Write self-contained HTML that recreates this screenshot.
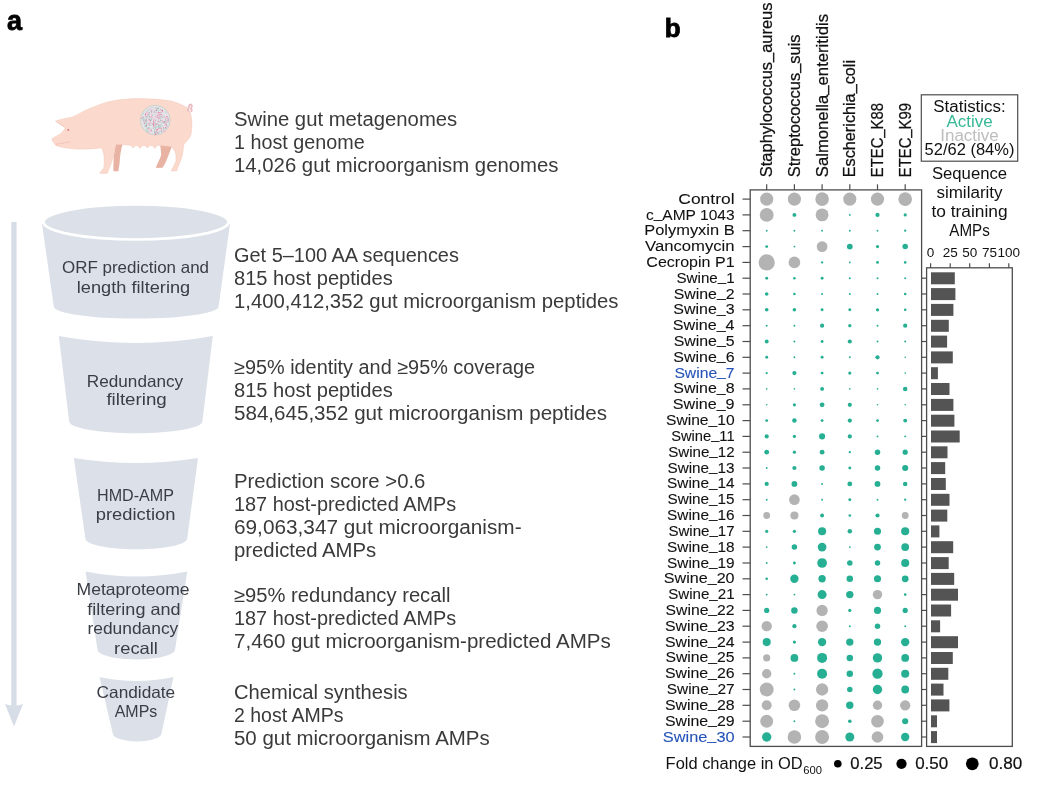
<!DOCTYPE html>
<html><head><meta charset="utf-8"><title>Figure</title>
<style>html,body{margin:0;padding:0;background:#fff}svg{display:block;will-change:transform}</style></head>
<body><svg width="1040" height="785" viewBox="0 0 1040 785">
<rect width="1040" height="785" fill="#ffffff"/>
<text x="6.9" y="29.9" style="font-family:'Liberation Sans',Arial,sans-serif;font-weight:bold;font-size:27px" fill="#000" stroke="#000" stroke-width="0.8">a</text>
<text x="664.8" y="37" style="font-family:'Liberation Sans',Arial,sans-serif;font-weight:bold;font-size:26px" fill="#000" stroke="#000" stroke-width="0.8">b</text>
<text x="234.0" y="126.3" textLength="223.2" lengthAdjust="spacingAndGlyphs" style="font-family:'Liberation Sans',Arial,sans-serif;font-size:19.5px" fill="#3a3a3a">Swine gut metagenomes</text>
<text x="234.0" y="149.3" textLength="130.7" lengthAdjust="spacingAndGlyphs" style="font-family:'Liberation Sans',Arial,sans-serif;font-size:19.5px" fill="#3a3a3a">1 host genome</text>
<text x="234.0" y="172.3" textLength="324.5" lengthAdjust="spacingAndGlyphs" style="font-family:'Liberation Sans',Arial,sans-serif;font-size:19.5px" fill="#3a3a3a">14,026 gut microorganism genomes</text>
<text x="234.0" y="262.4" textLength="224.9" lengthAdjust="spacingAndGlyphs" style="font-family:'Liberation Sans',Arial,sans-serif;font-size:19.5px" fill="#3a3a3a">Get 5–100 AA sequences</text>
<text x="234.0" y="285.4" textLength="158.7" lengthAdjust="spacingAndGlyphs" style="font-family:'Liberation Sans',Arial,sans-serif;font-size:19.5px" fill="#3a3a3a">815 host peptides</text>
<text x="234.0" y="308.4" textLength="384.5" lengthAdjust="spacingAndGlyphs" style="font-family:'Liberation Sans',Arial,sans-serif;font-size:19.5px" fill="#3a3a3a">1,400,412,352 gut microorganism peptides</text>
<text x="234.0" y="374.2" textLength="301.0" lengthAdjust="spacingAndGlyphs" style="font-family:'Liberation Sans',Arial,sans-serif;font-size:19.5px" fill="#3a3a3a">≥95% identity and ≥95% coverage</text>
<text x="234.0" y="397.2" textLength="158.7" lengthAdjust="spacingAndGlyphs" style="font-family:'Liberation Sans',Arial,sans-serif;font-size:19.5px" fill="#3a3a3a">815 host peptides</text>
<text x="234.0" y="420.2" textLength="373.0" lengthAdjust="spacingAndGlyphs" style="font-family:'Liberation Sans',Arial,sans-serif;font-size:19.5px" fill="#3a3a3a">584,645,352 gut microorganism peptides</text>
<text x="234.0" y="488.1" textLength="191.4" lengthAdjust="spacingAndGlyphs" style="font-family:'Liberation Sans',Arial,sans-serif;font-size:19.5px" fill="#3a3a3a">Prediction score &gt;0.6</text>
<text x="234.0" y="511.1" textLength="222.2" lengthAdjust="spacingAndGlyphs" style="font-family:'Liberation Sans',Arial,sans-serif;font-size:19.5px" fill="#3a3a3a">187 host-predicted AMPs</text>
<text x="234.0" y="534.1" textLength="287.6" lengthAdjust="spacingAndGlyphs" style="font-family:'Liberation Sans',Arial,sans-serif;font-size:19.5px" fill="#3a3a3a">69,063,347 gut microorganism-</text>
<text x="234.0" y="557.1" textLength="142.2" lengthAdjust="spacingAndGlyphs" style="font-family:'Liberation Sans',Arial,sans-serif;font-size:19.5px" fill="#3a3a3a">predicted AMPs</text>
<text x="234.0" y="602.0" textLength="216.4" lengthAdjust="spacingAndGlyphs" style="font-family:'Liberation Sans',Arial,sans-serif;font-size:19.5px" fill="#3a3a3a">≥95% redundancy recall</text>
<text x="234.0" y="625.0" textLength="222.2" lengthAdjust="spacingAndGlyphs" style="font-family:'Liberation Sans',Arial,sans-serif;font-size:19.5px" fill="#3a3a3a">187 host-predicted AMPs</text>
<text x="234.0" y="648.0" textLength="376.8" lengthAdjust="spacingAndGlyphs" style="font-family:'Liberation Sans',Arial,sans-serif;font-size:19.5px" fill="#3a3a3a">7,460 gut microorganism-predicted AMPs</text>
<text x="234.0" y="698.5" textLength="173.7" lengthAdjust="spacingAndGlyphs" style="font-family:'Liberation Sans',Arial,sans-serif;font-size:19.5px" fill="#3a3a3a">Chemical synthesis</text>
<text x="234.0" y="721.5" textLength="109.5" lengthAdjust="spacingAndGlyphs" style="font-family:'Liberation Sans',Arial,sans-serif;font-size:19.5px" fill="#3a3a3a">2 host AMPs</text>
<text x="234.0" y="744.5" textLength="255.7" lengthAdjust="spacingAndGlyphs" style="font-family:'Liberation Sans',Arial,sans-serif;font-size:19.5px" fill="#3a3a3a">50 gut microorganism AMPs</text>
<rect x="11.3" y="222" width="5.3" height="484" fill="#d7dde6"/>
<path d="M5,704 Q14,707 23,704 L14,726.5 Z" fill="#d7dde6"/>
<path d="M42,224 L230,224 L218.6,306.5 C218.6,313.2 181.7,318.6 136.2,318.6 C90.7,318.6 53.8,313.2 53.8,306.5 Z" fill="#dce0e9"/>
<ellipse cx="136" cy="222" rx="92.5" ry="17.5" fill="#dce0e9" stroke="#ffffff" stroke-width="2.6"/>
<path d="M58.8,336 Q135.8,350 212.8,336 L202.4,421.5 C202.4,428.0 172.6,433.2 135.8,433.2 C99.0,433.2 69.2,428.0 69.2,421.5 Z" fill="#dce0e9"/>
<path d="M73.8,458 Q135.9,468 198,458 L187.2,538.5 C187.2,544.5 164.4,549.3 136.3,549.3 C108.2,549.3 85.4,544.5 85.4,538.5 Z" fill="#dce0e9"/>
<path d="M85.5,571.5 Q136.4,581.5 187.3,571.5 L175,649.5 C175,655.0 157.6,659.4 136.2,659.4 C114.9,659.4 97.5,655.0 97.5,649.5 Z" fill="#dce0e9"/>
<path d="M99.5,677 Q136.5,685 173.5,677 L161.5,733.5 C161.5,737.9 150.6,741.4 137.2,741.4 C123.7,741.4 112.8,737.9 112.8,733.5 Z" fill="#dce0e9"/>
<text x="135.5" y="273.4" text-anchor="middle" textLength="147.0" lengthAdjust="spacingAndGlyphs" style="font-family:'Liberation Sans',Arial,sans-serif;font-size:16.5px" fill="#3a3d44">ORF prediction and</text>
<text x="133.5" y="292.7" text-anchor="middle" textLength="113.4" lengthAdjust="spacingAndGlyphs" style="font-family:'Liberation Sans',Arial,sans-serif;font-size:16.5px" fill="#3a3d44">length filtering</text>
<text x="135.0" y="386.5" text-anchor="middle" textLength="96.3" lengthAdjust="spacingAndGlyphs" style="font-family:'Liberation Sans',Arial,sans-serif;font-size:16.5px" fill="#3a3d44">Redundancy</text>
<text x="136.6" y="405.4" text-anchor="middle" textLength="60.4" lengthAdjust="spacingAndGlyphs" style="font-family:'Liberation Sans',Arial,sans-serif;font-size:16.5px" fill="#3a3d44">filtering</text>
<text x="135.5" y="501.0" text-anchor="middle" textLength="77" lengthAdjust="spacingAndGlyphs" style="font-family:'Liberation Sans',Arial,sans-serif;font-size:16.5px" fill="#3a3d44">HMD-AMP</text>
<text x="135.6" y="519.7" text-anchor="middle" textLength="79.6" lengthAdjust="spacingAndGlyphs" style="font-family:'Liberation Sans',Arial,sans-serif;font-size:16.5px" fill="#3a3d44">prediction</text>
<text x="133.1" y="595.0" text-anchor="middle" textLength="113.0" lengthAdjust="spacingAndGlyphs" style="font-family:'Liberation Sans',Arial,sans-serif;font-size:16.5px" fill="#3a3d44">Metaproteome</text>
<text x="133.9" y="614.6" text-anchor="middle" textLength="93.2" lengthAdjust="spacingAndGlyphs" style="font-family:'Liberation Sans',Arial,sans-serif;font-size:16.5px" fill="#3a3d44">filtering and</text>
<text x="132.9" y="634.3" text-anchor="middle" textLength="90.8" lengthAdjust="spacingAndGlyphs" style="font-family:'Liberation Sans',Arial,sans-serif;font-size:16.5px" fill="#3a3d44">redundancy</text>
<text x="136" y="654.0" text-anchor="middle" textLength="43.9" lengthAdjust="spacingAndGlyphs" style="font-family:'Liberation Sans',Arial,sans-serif;font-size:16.5px" fill="#3a3d44">recall</text>
<text x="135.9" y="697.5" text-anchor="middle" textLength="78.6" lengthAdjust="spacingAndGlyphs" style="font-family:'Liberation Sans',Arial,sans-serif;font-size:16.5px" fill="#3a3d44">Candidate</text>
<text x="136.0" y="716.7" text-anchor="middle" textLength="42.6" lengthAdjust="spacingAndGlyphs" style="font-family:'Liberation Sans',Arial,sans-serif;font-size:16.5px" fill="#3a3d44">AMPs</text>
<path d="M116,144.3 L122.6,144.3 C121.8,147 121,150 120.6,152.9 C120.1,156 119.8,159.5 119.6,163 C119.3,165.5 118.9,167.5 118.5,169.7 L118.6,171.2 L113.4,171.3 C113.3,167 113.5,160 113.9,155.4 C114.5,151 115.3,147.5 116,144.3 Z" fill="#e8b3a2"/>
<path d="M160.2,145 L171.9,146.5 C170.5,150 169.5,153 168.4,155.4 C167.3,158.5 166.2,161 165.3,163 C164.3,165 163.3,166.7 162.4,167.8 L156.1,168 C156.2,167 156.4,166.3 156.6,165.6 C158,162 160,158.5 161,155.4 C161.2,152 160.6,148.5 160.2,145 Z" fill="#e8b3a2"/>
<path d="M55.3,121 C60,119.5 66,118 72,117.2 C76,115.5 78,114 80.7,112.9 C85,110.5 89,108.5 93.7,106.9 C100,104.5 105,102.5 110,101.5 C115,100.3 120,99.6 125,99.3 C130,98.9 134,98.6 137.9,98.6 C148,98.6 158,99.5 166.6,100.3 C172,101 176,102.5 179.2,103.8 C182.5,105 185,106.3 187.3,107.8 C189.5,110 190.5,112.5 190.9,115.2 C191.6,118 192,121 191.9,124.4 C191.8,128 191.5,132 190.8,135 C190,137.5 188.5,139.5 186.7,141.1 C185,143 184,144 183.7,145.2 C183.2,148 183,151 182.7,153.4 C182.2,156 181.5,158.5 180.6,160.5 C179.5,163.5 178.2,166.5 177.2,168.7 L177,170.8 L171.3,171 C172.2,168.8 173.2,167 174,165.6 C175,163.5 175.8,162 176,160.5 C176.2,157.5 176,155 175.5,152.9 C174.9,151 174.2,150 173.5,149.5 C172.8,148.5 172.3,147.5 171.9,146.5 L157,145.3 L154.8,148.4 L152.4,145.4 L149.8,145.4 L147.4,147.9 L145,145.4 L142.4,145.4 L139.9,148.4 L137.4,145.5 L135.4,145.5 L133.2,147.9 L131,145.3 L122,144.6 C118,144.4 116.5,144.3 115.5,144.3 C115,147.5 114.5,151 113.9,154.4 C113.5,156.5 113,158 112.4,159.5 C111.8,161.5 111,163.8 110.4,165.6 C109.6,168 108.6,170 107.8,171.7 L107.3,173.3 L100.2,173.4 C100.1,172.6 100.1,172.1 100.3,171.7 C101.5,170.5 103,169.5 103.7,168.2 C104.1,166.5 104.3,164.5 104.2,162.6 C104.2,160 104.2,157.5 104,155.4 C103.6,153.2 103,151 102.2,149.3 C101.7,148.4 101.2,148 100.5,147.9 C96,148.5 90,149 82.9,149.1 C77,149.2 71,148.7 66.6,148 C62,147.3 59,146.7 57,145.9 C55.5,145.2 54.8,144.5 54.7,143.7 C53.6,142.5 52.6,141.2 52.2,140.2 C51.9,139.3 52.1,138.7 52.6,138.3 C55,136.8 58,135.5 60.2,134 C62.5,132 64.5,129.5 65.6,127.5 C62,125.5 58,123 55.3,121 Z" fill="#fbd9cc" stroke="#f1c7b8" stroke-width="0.5"/>
<path d="M188.2,110.5 C188.4,108.5 188.6,106.5 189.4,105.2 C190.2,104.2 191.2,104.3 191.7,105.4 C192.2,106.6 191.6,107.8 190.9,108.4 C191.8,109.2 192,110.3 191.4,111.2" fill="none" stroke="#ebbcc3" stroke-width="1.9" stroke-linecap="round" stroke-linejoin="round"/>
<path d="M57,121.8 C60,124 63,126 65.6,127.7" fill="none" stroke="#efc2b3" stroke-width="0.7"/>
<circle cx="68.3" cy="129.9" r="0.95" fill="#d9707a"/>
<path d="M55.8,144.3 C61,143.6 66,142.6 70,141.6" fill="none" stroke="#ecbcad" stroke-width="0.7"/>
<circle cx="155.3" cy="120.2" r="14.9" fill="#e4e4e8" stroke="#c9cfc9" stroke-width="0.9"/>
<rect x="146.8" y="116.8" width="1.6" height="0.9" fill="#cde9e0" transform="rotate(150 146.8 116.8)"/>
<rect x="157.3" y="114.6" width="1.6" height="1.1" fill="#e8a0b8" transform="rotate(47 157.3 114.6)"/>
<rect x="153.9" y="124.1" width="0.9" height="1.1" fill="#f0a6c2" transform="rotate(152 153.9 124.1)"/>
<rect x="168.4" y="117.2" width="1.1" height="1.1" fill="#f0a6c2" transform="rotate(135 168.4 117.2)"/>
<rect x="158.6" y="121.0" width="1.1" height="1.1" fill="#f0a6c2" transform="rotate(118 158.6 121.0)"/>
<rect x="148.8" y="116.0" width="1.1" height="1.1" fill="#9ad6c5" transform="rotate(163 148.8 116.0)"/>
<rect x="162.7" y="120.4" width="0.9" height="0.9" fill="#a8a8ae" transform="rotate(104 162.7 120.4)"/>
<rect x="168.9" y="119.8" width="0.9" height="1.1" fill="#a8a8ae" transform="rotate(80 168.9 119.8)"/>
<rect x="143.5" y="119.2" width="0.9" height="0.7" fill="#e8a0b8" transform="rotate(27 143.5 119.2)"/>
<rect x="160.2" y="113.1" width="1.6" height="0.7" fill="#f0a6c2" transform="rotate(175 160.2 113.1)"/>
<rect x="155.4" y="120.5" width="0.9" height="0.9" fill="#f4c0d4" transform="rotate(101 155.4 120.5)"/>
<rect x="147.2" y="116.6" width="1.1" height="1.1" fill="#a8a8ae" transform="rotate(86 147.2 116.6)"/>
<rect x="153.3" y="123.7" width="1.6" height="0.7" fill="#a9dccd" transform="rotate(63 153.3 123.7)"/>
<rect x="166.7" y="121.0" width="1.6" height="0.9" fill="#a9dccd" transform="rotate(174 166.7 121.0)"/>
<rect x="145.7" y="123.5" width="1.1" height="1.1" fill="#a9dccd" transform="rotate(107 145.7 123.5)"/>
<rect x="163.4" y="127.5" width="1.6" height="0.7" fill="#f0a6c2" transform="rotate(69 163.4 127.5)"/>
<rect x="167.8" y="118.2" width="1.3" height="0.7" fill="#9ad6c5" transform="rotate(47 167.8 118.2)"/>
<rect x="160.5" y="113.4" width="0.9" height="0.7" fill="#a9dccd" transform="rotate(54 160.5 113.4)"/>
<rect x="164.3" y="120.7" width="1.3" height="0.9" fill="#f4c0d4" transform="rotate(18 164.3 120.7)"/>
<rect x="156.3" y="123.8" width="1.1" height="0.7" fill="#e8a0b8" transform="rotate(94 156.3 123.8)"/>
<rect x="147.4" y="122.6" width="1.6" height="1.1" fill="#a9dccd" transform="rotate(98 147.4 122.6)"/>
<rect x="158.6" y="125.0" width="1.1" height="1.1" fill="#9ad6c5" transform="rotate(48 158.6 125.0)"/>
<rect x="151.6" y="116.3" width="1.1" height="1.1" fill="#f4c0d4" transform="rotate(123 151.6 116.3)"/>
<rect x="146.0" y="125.2" width="0.9" height="0.7" fill="#f0a6c2" transform="rotate(131 146.0 125.2)"/>
<rect x="156.3" y="133.5" width="1.6" height="0.9" fill="#f4c0d4" transform="rotate(152 156.3 133.5)"/>
<rect x="145.8" y="119.0" width="0.9" height="0.7" fill="#9ad6c5" transform="rotate(122 145.8 119.0)"/>
<rect x="161.4" y="112.1" width="0.9" height="0.9" fill="#9ad6c5" transform="rotate(52 161.4 112.1)"/>
<rect x="166.0" y="125.2" width="1.6" height="0.9" fill="#9ad6c5" transform="rotate(15 166.0 125.2)"/>
<rect x="154.7" y="123.1" width="1.1" height="0.7" fill="#c4c4cc" transform="rotate(35 154.7 123.1)"/>
<rect x="168.0" y="118.6" width="1.1" height="1.1" fill="#f0a6c2" transform="rotate(4 168.0 118.6)"/>
<rect x="149.4" y="127.5" width="1.3" height="0.7" fill="#f0a6c2" transform="rotate(153 149.4 127.5)"/>
<rect x="144.5" y="121.4" width="1.3" height="0.9" fill="#a9dccd" transform="rotate(18 144.5 121.4)"/>
<rect x="151.7" y="119.1" width="0.9" height="1.1" fill="#a9dccd" transform="rotate(87 151.7 119.1)"/>
<rect x="152.1" y="112.8" width="0.9" height="0.9" fill="#f0a6c2" transform="rotate(127 152.1 112.8)"/>
<rect x="148.0" y="112.9" width="1.6" height="0.9" fill="#e8a0b8" transform="rotate(3 148.0 112.9)"/>
<rect x="164.6" y="125.3" width="0.9" height="0.9" fill="#f4c0d4" transform="rotate(84 164.6 125.3)"/>
<rect x="154.5" y="111.8" width="1.6" height="0.9" fill="#f6d2e0" transform="rotate(138 154.5 111.8)"/>
<rect x="155.3" y="116.3" width="0.9" height="0.9" fill="#e8a0b8" transform="rotate(22 155.3 116.3)"/>
<rect x="156.5" y="129.6" width="0.9" height="0.9" fill="#e8a0b8" transform="rotate(168 156.5 129.6)"/>
<rect x="154.8" y="133.2" width="0.9" height="0.9" fill="#a8a8ae" transform="rotate(36 154.8 133.2)"/>
<rect x="158.6" y="130.9" width="1.1" height="0.9" fill="#f6d2e0" transform="rotate(127 158.6 130.9)"/>
<rect x="149.3" y="131.6" width="1.3" height="0.7" fill="#f4c0d4" transform="rotate(51 149.3 131.6)"/>
<rect x="145.8" y="128.7" width="1.3" height="0.7" fill="#a9dccd" transform="rotate(34 145.8 128.7)"/>
<rect x="160.3" y="112.0" width="0.9" height="1.1" fill="#e46e98" transform="rotate(70 160.3 112.0)"/>
<rect x="164.7" y="128.2" width="1.6" height="0.9" fill="#9ad6c5" transform="rotate(105 164.7 128.2)"/>
<rect x="147.0" y="119.1" width="1.3" height="1.1" fill="#e8a0b8" transform="rotate(115 147.0 119.1)"/>
<rect x="159.0" y="113.4" width="1.3" height="1.1" fill="#f0a6c2" transform="rotate(173 159.0 113.4)"/>
<rect x="145.0" y="115.3" width="1.3" height="1.1" fill="#e8a0b8" transform="rotate(4 145.0 115.3)"/>
<rect x="146.3" y="126.3" width="1.1" height="0.7" fill="#a8a8ae" transform="rotate(60 146.3 126.3)"/>
<rect x="158.8" y="108.7" width="0.9" height="0.9" fill="#e46e98" transform="rotate(161 158.8 108.7)"/>
<rect x="149.0" y="112.5" width="1.3" height="0.7" fill="#9ad6c5" transform="rotate(51 149.0 112.5)"/>
<rect x="154.8" y="132.5" width="0.9" height="0.9" fill="#cde9e0" transform="rotate(9 154.8 132.5)"/>
<rect x="154.5" y="125.9" width="1.3" height="1.1" fill="#cde9e0" transform="rotate(128 154.5 125.9)"/>
<rect x="155.7" y="109.5" width="1.6" height="1.1" fill="#9ad6c5" transform="rotate(22 155.7 109.5)"/>
<rect x="162.1" y="114.8" width="1.6" height="0.7" fill="#f6d2e0" transform="rotate(116 162.1 114.8)"/>
<rect x="159.9" y="116.3" width="0.9" height="0.9" fill="#cde9e0" transform="rotate(145 159.9 116.3)"/>
<rect x="144.3" y="120.0" width="1.3" height="0.9" fill="#c4c4cc" transform="rotate(166 144.3 120.0)"/>
<rect x="166.3" y="128.1" width="0.9" height="0.7" fill="#9ad6c5" transform="rotate(99 166.3 128.1)"/>
<rect x="168.6" y="118.3" width="1.3" height="0.9" fill="#f0a6c2" transform="rotate(89 168.6 118.3)"/>
<rect x="164.7" y="122.4" width="1.3" height="1.1" fill="#f4c0d4" transform="rotate(70 164.7 122.4)"/>
<rect x="164.6" y="121.9" width="0.9" height="0.9" fill="#f0a6c2" transform="rotate(44 164.6 121.9)"/>
<rect x="151.4" y="111.0" width="1.1" height="0.9" fill="#a9dccd" transform="rotate(132 151.4 111.0)"/>
<rect x="142.5" y="118.7" width="1.6" height="0.9" fill="#e8a0b8" transform="rotate(176 142.5 118.7)"/>
<rect x="156.0" y="124.1" width="1.3" height="1.1" fill="#cde9e0" transform="rotate(163 156.0 124.1)"/>
<rect x="149.8" y="119.7" width="1.3" height="0.9" fill="#f4c0d4" transform="rotate(156 149.8 119.7)"/>
<rect x="159.0" y="115.2" width="1.3" height="1.1" fill="#f6d2e0" transform="rotate(51 159.0 115.2)"/>
<rect x="161.9" y="125.9" width="0.9" height="1.1" fill="#f4c0d4" transform="rotate(7 161.9 125.9)"/>
<rect x="164.9" y="122.9" width="1.6" height="1.1" fill="#e8a0b8" transform="rotate(31 164.9 122.9)"/>
<rect x="151.8" y="111.3" width="0.9" height="1.1" fill="#f6d2e0" transform="rotate(105 151.8 111.3)"/>
<rect x="159.4" y="107.8" width="1.6" height="0.9" fill="#9ad6c5" transform="rotate(121 159.4 107.8)"/>
<rect x="150.2" y="128.3" width="1.6" height="1.1" fill="#c4c4cc" transform="rotate(27 150.2 128.3)"/>
<rect x="150.9" y="116.2" width="1.3" height="0.7" fill="#f0a6c2" transform="rotate(9 150.9 116.2)"/>
<rect x="156.2" y="126.1" width="1.3" height="0.9" fill="#c4c4cc" transform="rotate(62 156.2 126.1)"/>
<rect x="163.8" y="126.8" width="0.9" height="1.1" fill="#e8a0b8" transform="rotate(64 163.8 126.8)"/>
<rect x="151.8" y="109.2" width="1.6" height="0.7" fill="#f4c0d4" transform="rotate(162 151.8 109.2)"/>
<rect x="146.7" y="118.6" width="1.1" height="1.1" fill="#9ad6c5" transform="rotate(161 146.7 118.6)"/>
<rect x="157.3" y="129.9" width="1.1" height="1.1" fill="#e8a0b8" transform="rotate(150 157.3 129.9)"/>
<rect x="156.7" y="132.7" width="1.3" height="0.7" fill="#c4c4cc" transform="rotate(154 156.7 132.7)"/>
<rect x="162.1" y="116.6" width="1.1" height="0.7" fill="#e46e98" transform="rotate(34 162.1 116.6)"/>
<rect x="163.9" y="129.7" width="0.9" height="0.9" fill="#f4c0d4" transform="rotate(24 163.9 129.7)"/>
<rect x="163.7" y="117.0" width="1.1" height="0.7" fill="#f4c0d4" transform="rotate(160 163.7 117.0)"/>
<rect x="166.5" y="121.5" width="1.1" height="1.1" fill="#c4c4cc" transform="rotate(92 166.5 121.5)"/>
<rect x="150.7" y="120.0" width="1.3" height="1.1" fill="#9ad6c5" transform="rotate(18 150.7 120.0)"/>
<rect x="164.6" y="121.6" width="1.6" height="0.7" fill="#9ad6c5" transform="rotate(47 164.6 121.6)"/>
<rect x="157.5" y="124.3" width="1.1" height="0.9" fill="#e46e98" transform="rotate(148 157.5 124.3)"/>
<rect x="158.5" y="119.2" width="1.6" height="0.7" fill="#e46e98" transform="rotate(83 158.5 119.2)"/>
<rect x="147.7" y="124.0" width="1.3" height="0.9" fill="#9ad6c5" transform="rotate(153 147.7 124.0)"/>
<rect x="149.8" y="114.0" width="0.9" height="0.7" fill="#a9dccd" transform="rotate(104 149.8 114.0)"/>
<rect x="154.7" y="111.1" width="1.6" height="0.7" fill="#e8a0b8" transform="rotate(42 154.7 111.1)"/>
<rect x="156.4" y="116.2" width="1.3" height="0.7" fill="#f4c0d4" transform="rotate(145 156.4 116.2)"/>
<rect x="144.8" y="119.9" width="1.3" height="0.9" fill="#a8a8ae" transform="rotate(29 144.8 119.9)"/>
<rect x="157.4" y="108.6" width="1.6" height="0.7" fill="#c4c4cc" transform="rotate(137 157.4 108.6)"/>
<rect x="156.5" y="108.9" width="1.1" height="0.9" fill="#9ad6c5" transform="rotate(47 156.5 108.9)"/>
<rect x="153.3" y="123.2" width="1.6" height="0.7" fill="#f0a6c2" transform="rotate(91 153.3 123.2)"/>
<rect x="166.4" y="112.4" width="0.9" height="0.7" fill="#a8a8ae" transform="rotate(170 166.4 112.4)"/>
<rect x="156.9" y="127.5" width="1.6" height="1.1" fill="#a9dccd" transform="rotate(136 156.9 127.5)"/>
<rect x="151.5" y="119.9" width="1.6" height="1.1" fill="#9ad6c5" transform="rotate(179 151.5 119.9)"/>
<rect x="151.6" y="123.1" width="0.9" height="0.7" fill="#e8a0b8" transform="rotate(27 151.6 123.1)"/>
<rect x="154.8" y="131.9" width="1.6" height="1.1" fill="#f0a6c2" transform="rotate(50 154.8 131.9)"/>
<rect x="166.2" y="120.9" width="1.3" height="0.9" fill="#a8a8ae" transform="rotate(87 166.2 120.9)"/>
<rect x="145.2" y="119.7" width="0.9" height="1.1" fill="#f6d2e0" transform="rotate(165 145.2 119.7)"/>
<rect x="152.2" y="118.0" width="0.9" height="0.9" fill="#a9dccd" transform="rotate(98 152.2 118.0)"/>
<rect x="159.8" y="128.4" width="1.6" height="1.1" fill="#e8a0b8" transform="rotate(152 159.8 128.4)"/>
<rect x="158.4" y="119.1" width="1.6" height="0.9" fill="#cde9e0" transform="rotate(102 158.4 119.1)"/>
<rect x="148.3" y="128.1" width="1.3" height="0.9" fill="#a8a8ae" transform="rotate(143 148.3 128.1)"/>
<rect x="148.5" y="109.0" width="1.3" height="0.7" fill="#f0a6c2" transform="rotate(62 148.5 109.0)"/>
<rect x="148.3" y="112.5" width="1.6" height="1.1" fill="#f4c0d4" transform="rotate(13 148.3 112.5)"/>
<rect x="155.2" y="107.3" width="0.9" height="1.1" fill="#c4c4cc" transform="rotate(18 155.2 107.3)"/>
<rect x="157.3" y="132.2" width="1.6" height="0.9" fill="#9ad6c5" transform="rotate(11 157.3 132.2)"/>
<rect x="164.4" y="116.4" width="1.6" height="0.7" fill="#9ad6c5" transform="rotate(154 164.4 116.4)"/>
<rect x="166.2" y="123.8" width="1.6" height="0.9" fill="#e46e98" transform="rotate(52 166.2 123.8)"/>
<rect x="147.5" y="130.1" width="1.1" height="0.7" fill="#c4c4cc" transform="rotate(113 147.5 130.1)"/>
<rect x="150.9" y="122.7" width="1.3" height="1.1" fill="#e8a0b8" transform="rotate(174 150.9 122.7)"/>
<rect x="156.8" y="111.5" width="1.1" height="0.9" fill="#a9dccd" transform="rotate(61 156.8 111.5)"/>
<rect x="145.9" y="120.0" width="1.3" height="1.1" fill="#e8a0b8" transform="rotate(91 145.9 120.0)"/>
<rect x="149.8" y="115.7" width="1.1" height="1.1" fill="#a8a8ae" transform="rotate(61 149.8 115.7)"/>
<rect x="155.3" y="126.1" width="1.1" height="1.1" fill="#f0a6c2" transform="rotate(160 155.3 126.1)"/>
<rect x="154.9" y="123.5" width="1.6" height="0.7" fill="#e8a0b8" transform="rotate(9 154.9 123.5)"/>
<rect x="151.1" y="119.1" width="0.9" height="0.7" fill="#a9dccd" transform="rotate(140 151.1 119.1)"/>
<rect x="161.8" y="119.4" width="1.6" height="0.9" fill="#c4c4cc" transform="rotate(53 161.8 119.4)"/>
<rect x="147.4" y="120.5" width="1.1" height="0.7" fill="#e46e98" transform="rotate(114 147.4 120.5)"/>
<rect x="146.6" y="111.6" width="1.1" height="0.9" fill="#f4c0d4" transform="rotate(66 146.6 111.6)"/>
<rect x="160.3" y="127.1" width="1.1" height="1.1" fill="#e8a0b8" transform="rotate(83 160.3 127.1)"/>
<rect x="155.7" y="112.9" width="1.1" height="0.9" fill="#c4c4cc" transform="rotate(148 155.7 112.9)"/>
<rect x="158.3" y="117.2" width="0.9" height="1.1" fill="#e46e98" transform="rotate(110 158.3 117.2)"/>
<rect x="145.1" y="121.2" width="1.6" height="0.9" fill="#f0a6c2" transform="rotate(19 145.1 121.2)"/>
<rect x="161.7" y="116.2" width="0.9" height="1.1" fill="#a8a8ae" transform="rotate(126 161.7 116.2)"/>
<rect x="151.3" y="109.3" width="1.3" height="0.7" fill="#9ad6c5" transform="rotate(91 151.3 109.3)"/>
<rect x="150.2" y="130.0" width="0.9" height="0.9" fill="#f6d2e0" transform="rotate(145 150.2 130.0)"/>
<rect x="163.9" y="114.2" width="1.3" height="0.9" fill="#cde9e0" transform="rotate(78 163.9 114.2)"/>
<rect x="157.0" y="129.3" width="1.1" height="0.7" fill="#c4c4cc" transform="rotate(93 157.0 129.3)"/>
<rect x="154.4" y="118.3" width="1.6" height="0.7" fill="#e8a0b8" transform="rotate(94 154.4 118.3)"/>
<rect x="143.6" y="117.1" width="1.1" height="0.7" fill="#e46e98" transform="rotate(116 143.6 117.1)"/>
<rect x="152.8" y="132.7" width="0.9" height="0.7" fill="#cde9e0" transform="rotate(14 152.8 132.7)"/>
<rect x="146.2" y="116.1" width="0.9" height="1.1" fill="#f4c0d4" transform="rotate(16 146.2 116.1)"/>
<rect x="151.8" y="130.0" width="0.9" height="0.9" fill="#e46e98" transform="rotate(70 151.8 130.0)"/>
<rect x="164.7" y="113.3" width="0.9" height="0.7" fill="#a9dccd" transform="rotate(24 164.7 113.3)"/>
<rect x="148.3" y="110.7" width="1.1" height="1.1" fill="#9ad6c5" transform="rotate(125 148.3 110.7)"/>
<rect x="143.5" y="118.6" width="1.6" height="0.9" fill="#c4c4cc" transform="rotate(86 143.5 118.6)"/>
<rect x="149.2" y="130.8" width="1.1" height="0.9" fill="#f6d2e0" transform="rotate(137 149.2 130.8)"/>
<rect x="166.3" y="125.6" width="0.9" height="0.9" fill="#c4c4cc" transform="rotate(0 166.3 125.6)"/>
<rect x="161.4" y="109.6" width="1.6" height="1.1" fill="#f0a6c2" transform="rotate(134 161.4 109.6)"/>
<rect x="163.5" y="120.7" width="0.9" height="0.9" fill="#f4c0d4" transform="rotate(37 163.5 120.7)"/>
<rect x="158.8" y="125.9" width="1.6" height="1.1" fill="#a9dccd" transform="rotate(82 158.8 125.9)"/>
<rect x="149.8" y="123.0" width="1.3" height="0.9" fill="#f0a6c2" transform="rotate(120 149.8 123.0)"/>
<rect x="161.0" y="125.2" width="1.1" height="0.7" fill="#f0a6c2" transform="rotate(117 161.0 125.2)"/>
<rect x="153.5" y="120.4" width="0.9" height="0.9" fill="#e46e98" transform="rotate(50 153.5 120.4)"/>
<rect x="156.5" y="125.9" width="1.1" height="1.1" fill="#f6d2e0" transform="rotate(152 156.5 125.9)"/>
<rect x="146.2" y="123.7" width="1.3" height="0.9" fill="#a9dccd" transform="rotate(79 146.2 123.7)"/>
<rect x="165.4" y="116.4" width="1.6" height="0.9" fill="#f6d2e0" transform="rotate(103 165.4 116.4)"/>
<rect x="148.2" y="131.1" width="0.9" height="0.9" fill="#9ad6c5" transform="rotate(102 148.2 131.1)"/>
<rect x="158.2" y="119.2" width="1.6" height="1.1" fill="#cde9e0" transform="rotate(70 158.2 119.2)"/>
<rect x="166.6" y="124.5" width="1.1" height="0.7" fill="#f6d2e0" transform="rotate(95 166.6 124.5)"/>
<rect x="155.5" y="129.3" width="1.6" height="1.1" fill="#a9dccd" transform="rotate(106 155.5 129.3)"/>
<rect x="153.0" y="125.0" width="1.3" height="1.1" fill="#a9dccd" transform="rotate(163 153.0 125.0)"/>
<rect x="146.7" y="112.2" width="0.9" height="0.7" fill="#e8a0b8" transform="rotate(45 146.7 112.2)"/>
<rect x="155.5" y="119.7" width="1.1" height="0.7" fill="#e46e98" transform="rotate(90 155.5 119.7)"/>
<rect x="153.8" y="113.3" width="0.9" height="0.9" fill="#f6d2e0" transform="rotate(21 153.8 113.3)"/>
<rect x="143.9" y="113.3" width="1.3" height="0.7" fill="#9ad6c5" transform="rotate(106 143.9 113.3)"/>
<rect x="152.8" y="114.8" width="1.6" height="0.7" fill="#f0a6c2" transform="rotate(139 152.8 114.8)"/>
<rect x="146.6" y="120.5" width="1.3" height="0.9" fill="#a8a8ae" transform="rotate(103 146.6 120.5)"/>
<rect x="154.0" y="123.7" width="1.6" height="1.1" fill="#e46e98" transform="rotate(92 154.0 123.7)"/>
<rect x="157.7" y="123.1" width="1.6" height="1.1" fill="#f6d2e0" transform="rotate(31 157.7 123.1)"/>
<rect x="166.3" y="121.1" width="1.6" height="1.1" fill="#f6d2e0" transform="rotate(60 166.3 121.1)"/>
<rect x="160.9" y="125.0" width="0.9" height="1.1" fill="#9ad6c5" transform="rotate(157 160.9 125.0)"/>
<rect x="151.6" y="116.4" width="1.3" height="0.9" fill="#f4c0d4" transform="rotate(142 151.6 116.4)"/>
<rect x="154.9" y="131.3" width="1.1" height="0.9" fill="#e46e98" transform="rotate(84 154.9 131.3)"/>
<rect x="154.2" y="127.7" width="1.6" height="1.1" fill="#c4c4cc" transform="rotate(114 154.2 127.7)"/>
<rect x="165.6" y="127.0" width="1.1" height="1.1" fill="#e46e98" transform="rotate(33 165.6 127.0)"/>
<rect x="152.4" y="109.4" width="1.1" height="0.7" fill="#f4c0d4" transform="rotate(9 152.4 109.4)"/>
<rect x="144.9" y="113.4" width="0.9" height="0.7" fill="#9ad6c5" transform="rotate(8 144.9 113.4)"/>
<rect x="159.1" y="124.0" width="1.6" height="0.7" fill="#c4c4cc" transform="rotate(109 159.1 124.0)"/>
<rect x="163.7" y="130.2" width="1.1" height="0.7" fill="#f4c0d4" transform="rotate(123 163.7 130.2)"/>
<rect x="148.6" y="124.3" width="0.9" height="1.1" fill="#f4c0d4" transform="rotate(156 148.6 124.3)"/>
<rect x="166.6" y="118.9" width="1.1" height="1.1" fill="#e8a0b8" transform="rotate(135 166.6 118.9)"/>
<rect x="154.4" y="121.8" width="1.3" height="0.9" fill="#f6d2e0" transform="rotate(27 154.4 121.8)"/>
<rect x="158.1" y="129.9" width="1.3" height="0.9" fill="#e46e98" transform="rotate(156 158.1 129.9)"/>
<rect x="155.0" y="131.7" width="1.3" height="1.1" fill="#9ad6c5" transform="rotate(90 155.0 131.7)"/>
<rect x="144.7" y="119.3" width="1.1" height="1.1" fill="#9ad6c5" transform="rotate(145 144.7 119.3)"/>
<rect x="146.1" y="110.7" width="1.1" height="0.7" fill="#a9dccd" transform="rotate(62 146.1 110.7)"/>
<rect x="147.1" y="124.9" width="1.3" height="0.9" fill="#e46e98" transform="rotate(92 147.1 124.9)"/>
<rect x="160.5" y="115.5" width="1.6" height="1.1" fill="#a9dccd" transform="rotate(61 160.5 115.5)"/>
<rect x="142.8" y="116.7" width="0.9" height="1.1" fill="#a8a8ae" transform="rotate(43 142.8 116.7)"/>
<rect x="168.3" y="119.6" width="1.3" height="1.1" fill="#a9dccd" transform="rotate(31 168.3 119.6)"/>
<rect x="168.4" y="120.5" width="1.3" height="0.7" fill="#e8a0b8" transform="rotate(92 168.4 120.5)"/>
<rect x="160.2" y="131.6" width="0.9" height="0.9" fill="#f0a6c2" transform="rotate(103 160.2 131.6)"/>
<rect x="161.1" y="119.7" width="1.1" height="0.9" fill="#f4c0d4" transform="rotate(157 161.1 119.7)"/>
<rect x="158.8" y="110.3" width="0.9" height="0.7" fill="#9ad6c5" transform="rotate(105 158.8 110.3)"/>
<rect x="161.1" y="127.5" width="1.6" height="0.7" fill="#e8a0b8" transform="rotate(103 161.1 127.5)"/>
<rect x="149.7" y="119.5" width="1.3" height="0.7" fill="#e8a0b8" transform="rotate(85 149.7 119.5)"/>
<rect x="156.0" y="117.1" width="1.1" height="0.9" fill="#f6d2e0" transform="rotate(153 156.0 117.1)"/>
<rect x="152.8" y="123.8" width="1.6" height="0.9" fill="#f6d2e0" transform="rotate(118 152.8 123.8)"/>
<rect x="162.9" y="110.4" width="1.6" height="0.9" fill="#e46e98" transform="rotate(144 162.9 110.4)"/>
<rect x="159.6" y="118.5" width="1.3" height="1.1" fill="#cde9e0" transform="rotate(110 159.6 118.5)"/>
<rect x="164.0" y="121.5" width="0.9" height="0.9" fill="#e8a0b8" transform="rotate(110 164.0 121.5)"/>
<rect x="145.8" y="113.5" width="1.3" height="1.1" fill="#e46e98" transform="rotate(62 145.8 113.5)"/>
<rect x="150.8" y="121.8" width="1.6" height="0.7" fill="#f6d2e0" transform="rotate(177 150.8 121.8)"/>
<rect x="159.0" y="117.8" width="1.3" height="1.1" fill="#f4c0d4" transform="rotate(60 159.0 117.8)"/>
<rect x="168.1" y="120.1" width="1.3" height="1.1" fill="#f4c0d4" transform="rotate(144 168.1 120.1)"/>
<rect x="157.5" y="132.2" width="1.6" height="1.1" fill="#e46e98" transform="rotate(18 157.5 132.2)"/>
<rect x="156.4" y="116.1" width="0.9" height="1.1" fill="#e8a0b8" transform="rotate(116 156.4 116.1)"/>
<rect x="155.3" y="120.5" width="1.3" height="0.7" fill="#c4c4cc" transform="rotate(44 155.3 120.5)"/>
<rect x="158.0" y="118.1" width="1.6" height="0.7" fill="#c4c4cc" transform="rotate(177 158.0 118.1)"/>
<rect x="165.3" y="123.2" width="0.9" height="0.9" fill="#c4c4cc" transform="rotate(78 165.3 123.2)"/>
<rect x="160.1" y="126.3" width="1.6" height="0.7" fill="#9ad6c5" transform="rotate(75 160.1 126.3)"/>
<rect x="150.8" y="108.4" width="0.9" height="0.7" fill="#c4c4cc" transform="rotate(90 150.8 108.4)"/>
<rect x="168.1" y="121.5" width="1.1" height="1.1" fill="#9ad6c5" transform="rotate(49 168.1 121.5)"/>
<rect x="168.4" y="118.2" width="0.9" height="0.9" fill="#c4c4cc" transform="rotate(70 168.4 118.2)"/>
<rect x="152.4" y="107.9" width="1.1" height="0.9" fill="#f6d2e0" transform="rotate(106 152.4 107.9)"/>
<rect x="155.9" y="124.0" width="1.3" height="0.7" fill="#9ad6c5" transform="rotate(68 155.9 124.0)"/>
<rect x="155.8" y="126.0" width="1.3" height="0.9" fill="#c4c4cc" transform="rotate(169 155.8 126.0)"/>
<rect x="162.7" y="126.7" width="1.1" height="0.9" fill="#a9dccd" transform="rotate(170 162.7 126.7)"/>
<rect x="159.6" y="125.0" width="0.9" height="0.9" fill="#e46e98" transform="rotate(112 159.6 125.0)"/>
<rect x="166.9" y="126.0" width="0.9" height="0.7" fill="#e8a0b8" transform="rotate(150 166.9 126.0)"/>
<rect x="155.3" y="127.5" width="0.9" height="0.7" fill="#a8a8ae" transform="rotate(48 155.3 127.5)"/>
<rect x="154.1" y="126.8" width="0.9" height="0.7" fill="#a9dccd" transform="rotate(8 154.1 126.8)"/>
<rect x="164.6" y="114.8" width="1.6" height="0.7" fill="#f6d2e0" transform="rotate(15 164.6 114.8)"/>
<rect x="149.9" y="118.2" width="1.3" height="0.9" fill="#f6d2e0" transform="rotate(8 149.9 118.2)"/>
<rect x="145.5" y="119.9" width="1.1" height="1.1" fill="#a9dccd" transform="rotate(28 145.5 119.9)"/>
<rect x="156.3" y="130.8" width="1.6" height="1.1" fill="#a8a8ae" transform="rotate(60 156.3 130.8)"/>
<rect x="148.6" y="118.3" width="1.6" height="0.9" fill="#f0a6c2" transform="rotate(51 148.6 118.3)"/>
<rect x="153.0" y="110.0" width="1.6" height="0.7" fill="#c4c4cc" transform="rotate(38 153.0 110.0)"/>
<rect x="147.1" y="113.5" width="1.6" height="1.1" fill="#f6d2e0" transform="rotate(67 147.1 113.5)"/>
<rect x="167.7" y="122.6" width="0.9" height="0.7" fill="#e8a0b8" transform="rotate(163 167.7 122.6)"/>
<rect x="157.9" y="110.5" width="1.1" height="1.1" fill="#a9dccd" transform="rotate(13 157.9 110.5)"/>
<rect x="162.6" y="122.2" width="1.3" height="1.1" fill="#cde9e0" transform="rotate(67 162.6 122.2)"/>
<rect x="143.4" y="120.3" width="1.1" height="0.9" fill="#a8a8ae" transform="rotate(63 143.4 120.3)"/>
<rect x="153.3" y="115.1" width="1.6" height="0.7" fill="#c4c4cc" transform="rotate(105 153.3 115.1)"/>
<rect x="152.4" y="111.4" width="0.9" height="0.7" fill="#f6d2e0" transform="rotate(153 152.4 111.4)"/>
<rect x="163.6" y="130.8" width="1.6" height="1.1" fill="#f0a6c2" transform="rotate(0 163.6 130.8)"/>
<rect x="160.4" y="116.0" width="1.1" height="0.7" fill="#f4c0d4" transform="rotate(142 160.4 116.0)"/>
<rect x="148.7" y="123.6" width="0.9" height="0.7" fill="#e8a0b8" transform="rotate(58 148.7 123.6)"/>
<rect x="160.7" y="125.2" width="1.1" height="0.9" fill="#f6d2e0" transform="rotate(22 160.7 125.2)"/>
<rect x="146.7" y="130.1" width="1.3" height="1.1" fill="#9ad6c5" transform="rotate(10 146.7 130.1)"/>
<rect x="150.6" y="117.4" width="0.9" height="1.1" fill="#c4c4cc" transform="rotate(145 150.6 117.4)"/>
<rect x="162.8" y="111.7" width="1.1" height="0.9" fill="#f4c0d4" transform="rotate(54 162.8 111.7)"/>
<rect x="156.9" y="112.0" width="1.1" height="0.9" fill="#c4c4cc" transform="rotate(63 156.9 112.0)"/>
<rect x="149.8" y="118.4" width="1.1" height="0.9" fill="#9ad6c5" transform="rotate(102 149.8 118.4)"/>
<rect x="149.1" y="121.5" width="1.3" height="0.9" fill="#f6d2e0" transform="rotate(125 149.1 121.5)"/>
<rect x="149.5" y="108.0" width="1.6" height="0.7" fill="#cde9e0" transform="rotate(98 149.5 108.0)"/>
<rect x="163.7" y="122.8" width="1.3" height="0.9" fill="#a8a8ae" transform="rotate(158 163.7 122.8)"/>
<rect x="156.1" y="121.9" width="1.3" height="1.1" fill="#f4c0d4" transform="rotate(145 156.1 121.9)"/>
<rect x="152.5" y="107.4" width="1.3" height="0.7" fill="#c4c4cc" transform="rotate(14 152.5 107.4)"/>
<rect x="160.2" y="118.1" width="1.3" height="0.7" fill="#9ad6c5" transform="rotate(30 160.2 118.1)"/>
<rect x="154.5" y="121.9" width="1.6" height="0.9" fill="#e46e98" transform="rotate(97 154.5 121.9)"/>
<rect x="156.3" y="112.5" width="0.9" height="0.9" fill="#f4c0d4" transform="rotate(155 156.3 112.5)"/>
<rect x="161.7" y="121.9" width="1.1" height="1.1" fill="#e8a0b8" transform="rotate(32 161.7 121.9)"/>
<rect x="154.4" y="122.4" width="1.6" height="0.9" fill="#cde9e0" transform="rotate(177 154.4 122.4)"/>
<rect x="153.9" y="115.4" width="1.3" height="0.9" fill="#f6d2e0" transform="rotate(170 153.9 115.4)"/>
<rect x="161.4" y="114.5" width="1.3" height="1.1" fill="#f6d2e0" transform="rotate(103 161.4 114.5)"/>
<rect x="150.3" y="119.7" width="1.3" height="0.7" fill="#e46e98" transform="rotate(74 150.3 119.7)"/>
<rect x="149.0" y="114.9" width="1.1" height="0.7" fill="#f0a6c2" transform="rotate(161 149.0 114.9)"/>
<rect x="164.7" y="120.9" width="1.3" height="1.1" fill="#e46e98" transform="rotate(55 164.7 120.9)"/>
<rect x="149.2" y="128.3" width="0.9" height="0.9" fill="#9ad6c5" transform="rotate(161 149.2 128.3)"/>
<rect x="157.4" y="113.6" width="0.9" height="0.9" fill="#f6d2e0" transform="rotate(15 157.4 113.6)"/>
<rect x="163.9" y="116.2" width="1.3" height="0.9" fill="#a8a8ae" transform="rotate(56 163.9 116.2)"/>
<rect x="150.9" y="123.3" width="1.6" height="0.7" fill="#c4c4cc" transform="rotate(170 150.9 123.3)"/>
<rect x="143.9" y="118.7" width="1.3" height="0.9" fill="#a9dccd" transform="rotate(122 143.9 118.7)"/>
<rect x="152.2" y="110.3" width="1.3" height="1.1" fill="#f0a6c2" transform="rotate(100 152.2 110.3)"/>
<rect x="159.3" y="117.7" width="1.6" height="0.9" fill="#f0a6c2" transform="rotate(96 159.3 117.7)"/>
<rect x="147.1" y="115.3" width="1.6" height="1.1" fill="#c4c4cc" transform="rotate(64 147.1 115.3)"/>
<rect x="158.9" y="121.0" width="1.3" height="0.9" fill="#e8a0b8" transform="rotate(76 158.9 121.0)"/>
<rect x="151.9" y="114.1" width="1.1" height="1.1" fill="#f6d2e0" transform="rotate(98 151.9 114.1)"/>
<rect x="165.5" y="117.2" width="1.3" height="0.7" fill="#e8a0b8" transform="rotate(55 165.5 117.2)"/>
<rect x="147.0" y="111.6" width="1.6" height="1.1" fill="#f4c0d4" transform="rotate(16 147.0 111.6)"/>
<rect x="158.7" y="113.9" width="1.6" height="0.9" fill="#f4c0d4" transform="rotate(9 158.7 113.9)"/>
<rect x="150.3" y="109.1" width="1.3" height="0.9" fill="#f6d2e0" transform="rotate(92 150.3 109.1)"/>
<rect x="164.6" y="121.4" width="1.1" height="0.9" fill="#9ad6c5" transform="rotate(66 164.6 121.4)"/>
<rect x="156.4" y="131.4" width="0.9" height="1.1" fill="#f4c0d4" transform="rotate(0 156.4 131.4)"/>
<rect x="148.7" y="120.5" width="0.9" height="1.1" fill="#cde9e0" transform="rotate(176 148.7 120.5)"/>
<rect x="148.6" y="131.8" width="1.3" height="0.7" fill="#f0a6c2" transform="rotate(80 148.6 131.8)"/>
<rect x="158.5" y="132.0" width="1.6" height="1.1" fill="#a9dccd" transform="rotate(49 158.5 132.0)"/>
<rect x="162.0" y="130.6" width="1.6" height="1.1" fill="#a8a8ae" transform="rotate(94 162.0 130.6)"/>
<rect x="149.4" y="126.7" width="1.6" height="0.7" fill="#9ad6c5" transform="rotate(92 149.4 126.7)"/>
<rect x="158.7" y="127.2" width="1.1" height="0.7" fill="#e46e98" transform="rotate(26 158.7 127.2)"/>
<rect x="150.6" y="132.1" width="1.6" height="1.1" fill="#f6d2e0" transform="rotate(10 150.6 132.1)"/>
<rect x="159.0" y="116.1" width="1.6" height="0.7" fill="#c4c4cc" transform="rotate(64 159.0 116.1)"/>
<rect x="154.7" y="111.6" width="1.6" height="0.9" fill="#a8a8ae" transform="rotate(94 154.7 111.6)"/>
<rect x="150.0" y="130.4" width="1.3" height="0.7" fill="#e8a0b8" transform="rotate(33 150.0 130.4)"/>
<rect x="146.3" y="125.1" width="1.1" height="1.1" fill="#a8a8ae" transform="rotate(41 146.3 125.1)"/>
<rect x="151.9" y="123.6" width="1.3" height="0.7" fill="#a9dccd" transform="rotate(3 151.9 123.6)"/>
<rect x="152.1" y="111.4" width="1.1" height="0.9" fill="#a8a8ae" transform="rotate(107 152.1 111.4)"/>
<rect x="151.9" y="114.3" width="1.6" height="1.1" fill="#a9dccd" transform="rotate(12 151.9 114.3)"/>
<rect x="160.7" y="120.1" width="0.9" height="0.7" fill="#a8a8ae" transform="rotate(91 160.7 120.1)"/>
<rect x="166.9" y="119.7" width="0.9" height="0.9" fill="#c4c4cc" transform="rotate(6 166.9 119.7)"/>
<rect x="162.9" y="110.4" width="1.1" height="0.9" fill="#e46e98" transform="rotate(79 162.9 110.4)"/>
<rect x="161.5" y="113.6" width="1.3" height="0.7" fill="#f4c0d4" transform="rotate(158 161.5 113.6)"/>
<rect x="160.8" y="127.0" width="1.6" height="1.1" fill="#9ad6c5" transform="rotate(139 160.8 127.0)"/>
<rect x="160.1" y="114.8" width="1.6" height="0.7" fill="#e46e98" transform="rotate(142 160.1 114.8)"/>
<rect x="155.2" y="133.3" width="1.6" height="0.9" fill="#e46e98" transform="rotate(38 155.2 133.3)"/>
<rect x="163.0" y="121.1" width="1.1" height="0.9" fill="#f4c0d4" transform="rotate(70 163.0 121.1)"/>
<rect x="162.0" y="124.0" width="1.1" height="0.9" fill="#cde9e0" transform="rotate(66 162.0 124.0)"/>
<rect x="161.2" y="128.5" width="0.9" height="0.9" fill="#e46e98" transform="rotate(1 161.2 128.5)"/>
<rect x="149.5" y="120.8" width="1.1" height="0.9" fill="#f6d2e0" transform="rotate(8 149.5 120.8)"/>
<rect x="158.4" y="112.0" width="1.6" height="1.1" fill="#f0a6c2" transform="rotate(55 158.4 112.0)"/>
<rect x="149.7" y="111.8" width="1.3" height="0.9" fill="#9ad6c5" transform="rotate(74 149.7 111.8)"/>
<rect x="167.9" y="119.7" width="1.6" height="1.1" fill="#f0a6c2" transform="rotate(45 167.9 119.7)"/>
<rect x="167.1" y="115.9" width="0.9" height="1.1" fill="#e46e98" transform="rotate(69 167.1 115.9)"/>
<rect x="155.5" y="112.1" width="1.3" height="0.7" fill="#cde9e0" transform="rotate(119 155.5 112.1)"/>
<rect x="155.6" y="121.5" width="1.3" height="0.7" fill="#cde9e0" transform="rotate(67 155.6 121.5)"/>
<rect x="158.5" y="108.4" width="1.6" height="0.9" fill="#a8a8ae" transform="rotate(136 158.5 108.4)"/>
<rect x="156.7" y="107.9" width="0.9" height="0.9" fill="#f4c0d4" transform="rotate(180 156.7 107.9)"/>
<rect x="162.3" y="115.0" width="0.9" height="0.7" fill="#e8a0b8" transform="rotate(36 162.3 115.0)"/>
<rect x="150.3" y="124.4" width="1.3" height="1.1" fill="#a8a8ae" transform="rotate(93 150.3 124.4)"/>
<rect x="145.1" y="123.5" width="1.3" height="0.9" fill="#e46e98" transform="rotate(167 145.1 123.5)"/>
<rect x="161.7" y="124.5" width="1.3" height="0.7" fill="#a9dccd" transform="rotate(54 161.7 124.5)"/>
<rect x="157.3" y="122.4" width="1.3" height="1.1" fill="#9ad6c5" transform="rotate(45 157.3 122.4)"/>
<rect x="159.8" y="126.8" width="1.3" height="0.9" fill="#a9dccd" transform="rotate(110 159.8 126.8)"/>
<rect x="153.7" y="121.4" width="0.9" height="0.9" fill="#e46e98" transform="rotate(82 153.7 121.4)"/>
<rect x="162.4" y="109.0" width="1.1" height="0.7" fill="#a9dccd" transform="rotate(82 162.4 109.0)"/>
<rect x="152.3" y="118.3" width="1.3" height="0.9" fill="#f6d2e0" transform="rotate(56 152.3 118.3)"/>
<rect x="157.1" y="110.8" width="1.1" height="0.9" fill="#e46e98" transform="rotate(173 157.1 110.8)"/>
<rect x="162.8" y="116.1" width="1.1" height="0.9" fill="#cde9e0" transform="rotate(2 162.8 116.1)"/>
<rect x="151.8" y="116.3" width="1.6" height="1.1" fill="#f0a6c2" transform="rotate(54 151.8 116.3)"/>
<rect x="149.3" y="129.0" width="1.6" height="1.1" fill="#f4c0d4" transform="rotate(129 149.3 129.0)"/>
<rect x="167.2" y="114.1" width="0.9" height="1.1" fill="#f6d2e0" transform="rotate(111 167.2 114.1)"/>
<rect x="145.6" y="125.6" width="1.6" height="1.1" fill="#9ad6c5" transform="rotate(96 145.6 125.6)"/>
<rect x="145.8" y="115.5" width="0.9" height="1.1" fill="#f6d2e0" transform="rotate(114 145.8 115.5)"/>
<rect x="162.2" y="122.3" width="0.9" height="0.9" fill="#a9dccd" transform="rotate(137 162.2 122.3)"/>
<rect x="164.6" y="119.8" width="1.3" height="0.7" fill="#f6d2e0" transform="rotate(141 164.6 119.8)"/>
<rect x="161.1" y="113.8" width="1.1" height="0.9" fill="#e46e98" transform="rotate(59 161.1 113.8)"/>
<rect x="160.5" y="117.5" width="1.1" height="0.7" fill="#e46e98" transform="rotate(130 160.5 117.5)"/>
<rect x="154.8" y="127.0" width="1.1" height="0.7" fill="#c4c4cc" transform="rotate(64 154.8 127.0)"/>
<rect x="149.6" y="128.2" width="1.1" height="1.1" fill="#f0a6c2" transform="rotate(109 149.6 128.2)"/>
<rect x="154.2" y="126.1" width="1.1" height="0.7" fill="#e46e98" transform="rotate(142 154.2 126.1)"/>
<rect x="155.7" y="111.2" width="1.1" height="0.7" fill="#f6d2e0" transform="rotate(14 155.7 111.2)"/>
<rect x="143.9" y="116.6" width="0.9" height="0.7" fill="#c4c4cc" transform="rotate(45 143.9 116.6)"/>
<rect x="159.5" y="121.2" width="1.3" height="0.7" fill="#a8a8ae" transform="rotate(30 159.5 121.2)"/>
<rect x="148.7" y="114.4" width="0.9" height="1.1" fill="#e8a0b8" transform="rotate(119 148.7 114.4)"/>
<rect x="166.9" y="125.8" width="1.1" height="1.1" fill="#c4c4cc" transform="rotate(50 166.9 125.8)"/>
<text transform="translate(772.3,177.2) rotate(-90)" x="0" y="0" textLength="174.7" lengthAdjust="spacingAndGlyphs" style="font-family:'Liberation Sans',Arial,sans-serif;font-size:16px" fill="#111" stroke="#111" stroke-width="0.25">Staphylococcus<tspan dy="-1.6">_</tspan><tspan dy="1.6">aureus</tspan></text>
<text transform="translate(800.0,177.2) rotate(-90)" x="0" y="0" textLength="142.8" lengthAdjust="spacingAndGlyphs" style="font-family:'Liberation Sans',Arial,sans-serif;font-size:16px" fill="#111" stroke="#111" stroke-width="0.25">Streptococcus<tspan dy="-1.6">_</tspan><tspan dy="1.6">suis</tspan></text>
<text transform="translate(827.7,177.2) rotate(-90)" x="0" y="0" textLength="163.2" lengthAdjust="spacingAndGlyphs" style="font-family:'Liberation Sans',Arial,sans-serif;font-size:16px" fill="#111" stroke="#111" stroke-width="0.25">Salmonella<tspan dy="-1.6">_</tspan><tspan dy="1.6">enteritidis</tspan></text>
<text transform="translate(855.4,177.2) rotate(-90)" x="0" y="0" textLength="117.2" lengthAdjust="spacingAndGlyphs" style="font-family:'Liberation Sans',Arial,sans-serif;font-size:16px" fill="#111" stroke="#111" stroke-width="0.25">Escherichia<tspan dy="-1.6">_</tspan><tspan dy="1.6">coli</tspan></text>
<text transform="translate(883.1,177.2) rotate(-90)" x="0" y="0" textLength="74.2" lengthAdjust="spacingAndGlyphs" style="font-family:'Liberation Sans',Arial,sans-serif;font-size:16px" fill="#111" stroke="#111" stroke-width="0.25">ETEC<tspan dy="-1.6">_</tspan><tspan dy="1.6">K88</tspan></text>
<text transform="translate(910.8,177.2) rotate(-90)" x="0" y="0" textLength="74.2" lengthAdjust="spacingAndGlyphs" style="font-family:'Liberation Sans',Arial,sans-serif;font-size:16px" fill="#111" stroke="#111" stroke-width="0.25">ETEC<tspan dy="-1.6">_</tspan><tspan dy="1.6">K99</tspan></text>
<rect x="750.2" y="189.9" width="171.4" height="556.5" fill="none" stroke="#4d4d4d" stroke-width="1.3"/>
<line x1="766.7" y1="184.3" x2="766.7" y2="189.9" stroke="#4d4d4d" stroke-width="1.2"/>
<line x1="794.4" y1="184.3" x2="794.4" y2="189.9" stroke="#4d4d4d" stroke-width="1.2"/>
<line x1="822.1" y1="184.3" x2="822.1" y2="189.9" stroke="#4d4d4d" stroke-width="1.2"/>
<line x1="849.8" y1="184.3" x2="849.8" y2="189.9" stroke="#4d4d4d" stroke-width="1.2"/>
<line x1="877.5" y1="184.3" x2="877.5" y2="189.9" stroke="#4d4d4d" stroke-width="1.2"/>
<line x1="905.2" y1="184.3" x2="905.2" y2="189.9" stroke="#4d4d4d" stroke-width="1.2"/>
<line x1="742.5" y1="199.1" x2="750.2" y2="199.1" stroke="#4d4d4d" stroke-width="1.2"/>
<text x="734.6" y="203.8" text-anchor="end" textLength="56.3" lengthAdjust="spacingAndGlyphs" style="font-family:'Liberation Sans',Arial,sans-serif;font-size:15.3px" fill="#111" stroke="#111" stroke-width="0.06">Control</text>
<circle cx="766.7" cy="199.1" r="6.60" fill="#b3b3b3"/>
<circle cx="794.4" cy="199.1" r="6.60" fill="#b3b3b3"/>
<circle cx="822.1" cy="199.1" r="6.80" fill="#b3b3b3"/>
<circle cx="849.8" cy="199.1" r="6.60" fill="#b3b3b3"/>
<circle cx="877.5" cy="199.1" r="6.60" fill="#b3b3b3"/>
<circle cx="905.2" cy="199.1" r="6.80" fill="#b3b3b3"/>
<line x1="742.5" y1="214.9" x2="750.2" y2="214.9" stroke="#4d4d4d" stroke-width="1.2"/>
<text x="734.6" y="219.6" text-anchor="end" textLength="88.7" lengthAdjust="spacingAndGlyphs" style="font-family:'Liberation Sans',Arial,sans-serif;font-size:15.3px" fill="#111" stroke="#111" stroke-width="0.06">c<tspan dy="-1.6">_</tspan><tspan dy="1.6">AMP 1043</tspan></text>
<circle cx="766.7" cy="214.9" r="6.95" fill="#b3b3b3"/>
<circle cx="794.4" cy="214.9" r="1.95" fill="#27af94"/>
<circle cx="822.1" cy="214.9" r="6.45" fill="#b3b3b3"/>
<circle cx="849.8" cy="214.9" r="0.95" fill="#27af94"/>
<circle cx="877.5" cy="214.9" r="2.10" fill="#27af94"/>
<circle cx="905.2" cy="214.9" r="1.60" fill="#27af94"/>
<line x1="742.5" y1="230.7" x2="750.2" y2="230.7" stroke="#4d4d4d" stroke-width="1.2"/>
<text x="734.6" y="235.4" text-anchor="end" textLength="90.3" lengthAdjust="spacingAndGlyphs" style="font-family:'Liberation Sans',Arial,sans-serif;font-size:15.3px" fill="#111" stroke="#111" stroke-width="0.06">Polymyxin B</text>
<circle cx="766.7" cy="230.7" r="0.95" fill="#27af94"/>
<circle cx="794.4" cy="230.7" r="0.95" fill="#27af94"/>
<circle cx="822.1" cy="230.7" r="0.95" fill="#27af94"/>
<circle cx="849.8" cy="230.7" r="0.95" fill="#27af94"/>
<circle cx="877.5" cy="230.7" r="0.95" fill="#27af94"/>
<circle cx="905.2" cy="230.7" r="1.15" fill="#27af94"/>
<line x1="742.5" y1="246.6" x2="750.2" y2="246.6" stroke="#4d4d4d" stroke-width="1.2"/>
<text x="734.6" y="251.3" text-anchor="end" textLength="89.6" lengthAdjust="spacingAndGlyphs" style="font-family:'Liberation Sans',Arial,sans-serif;font-size:15.3px" fill="#111" stroke="#111" stroke-width="0.06">Vancomycin</text>
<circle cx="766.7" cy="246.6" r="1.45" fill="#27af94"/>
<circle cx="794.4" cy="246.6" r="0.95" fill="#27af94"/>
<circle cx="822.1" cy="246.6" r="5.35" fill="#b3b3b3"/>
<circle cx="849.8" cy="246.6" r="2.90" fill="#27af94"/>
<circle cx="877.5" cy="246.6" r="1.60" fill="#27af94"/>
<circle cx="905.2" cy="246.6" r="2.75" fill="#27af94"/>
<line x1="742.5" y1="262.4" x2="750.2" y2="262.4" stroke="#4d4d4d" stroke-width="1.2"/>
<text x="734.6" y="267.1" text-anchor="end" textLength="88.3" lengthAdjust="spacingAndGlyphs" style="font-family:'Liberation Sans',Arial,sans-serif;font-size:15.3px" fill="#111" stroke="#111" stroke-width="0.06">Cecropin P1</text>
<circle cx="766.7" cy="262.4" r="8.10" fill="#b3b3b3"/>
<circle cx="794.4" cy="262.4" r="5.80" fill="#b3b3b3"/>
<circle cx="822.1" cy="262.4" r="1.15" fill="#27af94"/>
<circle cx="849.8" cy="262.4" r="0.95" fill="#27af94"/>
<circle cx="877.5" cy="262.4" r="1.45" fill="#27af94"/>
<circle cx="905.2" cy="262.4" r="1.30" fill="#27af94"/>
<line x1="742.5" y1="278.2" x2="750.2" y2="278.2" stroke="#4d4d4d" stroke-width="1.2"/>
<text x="734.6" y="282.7" text-anchor="end" textLength="58.1" lengthAdjust="spacingAndGlyphs" style="font-family:'Liberation Sans',Arial,sans-serif;font-size:14.8px" fill="#111" stroke="#111" stroke-width="0.1">Swine<tspan dy="-1.6">_</tspan><tspan dy="1.6">1</tspan></text>
<circle cx="766.7" cy="278.2" r="1.45" fill="#27af94"/>
<circle cx="794.4" cy="278.2" r="1.30" fill="#27af94"/>
<circle cx="822.1" cy="278.2" r="1.45" fill="#27af94"/>
<circle cx="849.8" cy="278.2" r="1.00" fill="#27af94"/>
<circle cx="877.5" cy="278.2" r="1.00" fill="#27af94"/>
<circle cx="905.2" cy="278.2" r="1.00" fill="#27af94"/>
<line x1="742.5" y1="294.0" x2="750.2" y2="294.0" stroke="#4d4d4d" stroke-width="1.2"/>
<text x="734.6" y="298.5" text-anchor="end" textLength="60.9" lengthAdjust="spacingAndGlyphs" style="font-family:'Liberation Sans',Arial,sans-serif;font-size:14.8px" fill="#111" stroke="#111" stroke-width="0.1">Swine<tspan dy="-1.6">_</tspan><tspan dy="1.6">2</tspan></text>
<circle cx="766.7" cy="294.0" r="1.80" fill="#27af94"/>
<circle cx="794.4" cy="294.0" r="1.30" fill="#27af94"/>
<circle cx="822.1" cy="294.0" r="1.00" fill="#27af94"/>
<circle cx="849.8" cy="294.0" r="1.00" fill="#27af94"/>
<circle cx="877.5" cy="294.0" r="1.00" fill="#27af94"/>
<circle cx="905.2" cy="294.0" r="1.30" fill="#27af94"/>
<line x1="742.5" y1="309.8" x2="750.2" y2="309.8" stroke="#4d4d4d" stroke-width="1.2"/>
<text x="734.6" y="314.3" text-anchor="end" textLength="61.3" lengthAdjust="spacingAndGlyphs" style="font-family:'Liberation Sans',Arial,sans-serif;font-size:14.8px" fill="#111" stroke="#111" stroke-width="0.1">Swine<tspan dy="-1.6">_</tspan><tspan dy="1.6">3</tspan></text>
<circle cx="766.7" cy="309.8" r="1.80" fill="#27af94"/>
<circle cx="794.4" cy="309.8" r="1.80" fill="#27af94"/>
<circle cx="822.1" cy="309.8" r="1.45" fill="#27af94"/>
<circle cx="849.8" cy="309.8" r="1.45" fill="#27af94"/>
<circle cx="877.5" cy="309.8" r="1.65" fill="#27af94"/>
<circle cx="905.2" cy="309.8" r="1.30" fill="#27af94"/>
<line x1="742.5" y1="325.7" x2="750.2" y2="325.7" stroke="#4d4d4d" stroke-width="1.2"/>
<text x="734.6" y="330.2" text-anchor="end" textLength="61.8" lengthAdjust="spacingAndGlyphs" style="font-family:'Liberation Sans',Arial,sans-serif;font-size:14.8px" fill="#111" stroke="#111" stroke-width="0.1">Swine<tspan dy="-1.6">_</tspan><tspan dy="1.6">4</tspan></text>
<circle cx="766.7" cy="325.7" r="1.00" fill="#27af94"/>
<circle cx="794.4" cy="325.7" r="1.00" fill="#27af94"/>
<circle cx="822.1" cy="325.7" r="2.10" fill="#27af94"/>
<circle cx="849.8" cy="325.7" r="1.65" fill="#27af94"/>
<circle cx="877.5" cy="325.7" r="1.00" fill="#27af94"/>
<circle cx="905.2" cy="325.7" r="2.10" fill="#27af94"/>
<line x1="742.5" y1="341.5" x2="750.2" y2="341.5" stroke="#4d4d4d" stroke-width="1.2"/>
<text x="734.6" y="346.0" text-anchor="end" textLength="60.9" lengthAdjust="spacingAndGlyphs" style="font-family:'Liberation Sans',Arial,sans-serif;font-size:14.8px" fill="#111" stroke="#111" stroke-width="0.1">Swine<tspan dy="-1.6">_</tspan><tspan dy="1.6">5</tspan></text>
<circle cx="766.7" cy="341.5" r="1.95" fill="#27af94"/>
<circle cx="794.4" cy="341.5" r="1.00" fill="#27af94"/>
<circle cx="822.1" cy="341.5" r="1.45" fill="#27af94"/>
<circle cx="849.8" cy="341.5" r="2.10" fill="#27af94"/>
<circle cx="877.5" cy="341.5" r="1.00" fill="#27af94"/>
<circle cx="905.2" cy="341.5" r="1.00" fill="#27af94"/>
<line x1="742.5" y1="357.3" x2="750.2" y2="357.3" stroke="#4d4d4d" stroke-width="1.2"/>
<text x="734.6" y="361.8" text-anchor="end" textLength="61.3" lengthAdjust="spacingAndGlyphs" style="font-family:'Liberation Sans',Arial,sans-serif;font-size:14.8px" fill="#111" stroke="#111" stroke-width="0.1">Swine<tspan dy="-1.6">_</tspan><tspan dy="1.6">6</tspan></text>
<circle cx="766.7" cy="357.3" r="1.45" fill="#27af94"/>
<circle cx="794.4" cy="357.3" r="0.95" fill="#27af94"/>
<circle cx="822.1" cy="357.3" r="1.45" fill="#27af94"/>
<circle cx="849.8" cy="357.3" r="0.95" fill="#27af94"/>
<circle cx="877.5" cy="357.3" r="2.10" fill="#27af94"/>
<circle cx="905.2" cy="357.3" r="0.80" fill="#27af94"/>
<line x1="742.5" y1="373.1" x2="750.2" y2="373.1" stroke="#4d4d4d" stroke-width="1.2"/>
<text x="734.6" y="377.6" text-anchor="end" textLength="60.2" lengthAdjust="spacingAndGlyphs" style="font-family:'Liberation Sans',Arial,sans-serif;font-size:14.8px" fill="#2553b8" stroke="#2553b8" stroke-width="0.1">Swine<tspan dy="-1.6">_</tspan><tspan dy="1.6">7</tspan></text>
<circle cx="766.7" cy="373.1" r="1.15" fill="#27af94"/>
<circle cx="794.4" cy="373.1" r="2.10" fill="#27af94"/>
<circle cx="822.1" cy="373.1" r="1.45" fill="#27af94"/>
<circle cx="849.8" cy="373.1" r="1.60" fill="#27af94"/>
<circle cx="877.5" cy="373.1" r="1.45" fill="#27af94"/>
<circle cx="905.2" cy="373.1" r="0.80" fill="#27af94"/>
<line x1="742.5" y1="388.9" x2="750.2" y2="388.9" stroke="#4d4d4d" stroke-width="1.2"/>
<text x="734.6" y="393.4" text-anchor="end" textLength="61.3" lengthAdjust="spacingAndGlyphs" style="font-family:'Liberation Sans',Arial,sans-serif;font-size:14.8px" fill="#111" stroke="#111" stroke-width="0.1">Swine<tspan dy="-1.6">_</tspan><tspan dy="1.6">8</tspan></text>
<circle cx="766.7" cy="388.9" r="0.80" fill="#27af94"/>
<circle cx="794.4" cy="388.9" r="0.80" fill="#27af94"/>
<circle cx="822.1" cy="388.9" r="1.95" fill="#27af94"/>
<circle cx="849.8" cy="388.9" r="0.80" fill="#27af94"/>
<circle cx="877.5" cy="388.9" r="0.80" fill="#27af94"/>
<circle cx="905.2" cy="388.9" r="2.25" fill="#27af94"/>
<line x1="742.5" y1="404.8" x2="750.2" y2="404.8" stroke="#4d4d4d" stroke-width="1.2"/>
<text x="734.6" y="409.3" text-anchor="end" textLength="61.8" lengthAdjust="spacingAndGlyphs" style="font-family:'Liberation Sans',Arial,sans-serif;font-size:14.8px" fill="#111" stroke="#111" stroke-width="0.1">Swine<tspan dy="-1.6">_</tspan><tspan dy="1.6">9</tspan></text>
<circle cx="766.7" cy="404.8" r="0.80" fill="#27af94"/>
<circle cx="794.4" cy="404.8" r="1.60" fill="#27af94"/>
<circle cx="822.1" cy="404.8" r="2.40" fill="#27af94"/>
<circle cx="849.8" cy="404.8" r="2.10" fill="#27af94"/>
<circle cx="877.5" cy="404.8" r="0.80" fill="#27af94"/>
<circle cx="905.2" cy="404.8" r="0.80" fill="#27af94"/>
<line x1="742.5" y1="420.6" x2="750.2" y2="420.6" stroke="#4d4d4d" stroke-width="1.2"/>
<text x="734.6" y="425.1" text-anchor="end" textLength="68.6" lengthAdjust="spacingAndGlyphs" style="font-family:'Liberation Sans',Arial,sans-serif;font-size:14.8px" fill="#111" stroke="#111" stroke-width="0.1">Swine<tspan dy="-1.6">_</tspan><tspan dy="1.6">10</tspan></text>
<circle cx="766.7" cy="420.6" r="1.45" fill="#27af94"/>
<circle cx="794.4" cy="420.6" r="2.25" fill="#27af94"/>
<circle cx="822.1" cy="420.6" r="1.45" fill="#27af94"/>
<circle cx="849.8" cy="420.6" r="2.10" fill="#27af94"/>
<circle cx="877.5" cy="420.6" r="1.45" fill="#27af94"/>
<circle cx="905.2" cy="420.6" r="1.95" fill="#27af94"/>
<line x1="742.5" y1="436.4" x2="750.2" y2="436.4" stroke="#4d4d4d" stroke-width="1.2"/>
<text x="734.6" y="440.9" text-anchor="end" textLength="63.4" lengthAdjust="spacingAndGlyphs" style="font-family:'Liberation Sans',Arial,sans-serif;font-size:14.8px" fill="#111" stroke="#111" stroke-width="0.1">Swine<tspan dy="-1.6">_</tspan><tspan dy="1.6">11</tspan></text>
<circle cx="766.7" cy="436.4" r="2.10" fill="#27af94"/>
<circle cx="794.4" cy="436.4" r="1.60" fill="#27af94"/>
<circle cx="822.1" cy="436.4" r="3.05" fill="#27af94"/>
<circle cx="849.8" cy="436.4" r="2.10" fill="#27af94"/>
<circle cx="877.5" cy="436.4" r="0.95" fill="#27af94"/>
<circle cx="905.2" cy="436.4" r="0.95" fill="#27af94"/>
<line x1="742.5" y1="452.2" x2="750.2" y2="452.2" stroke="#4d4d4d" stroke-width="1.2"/>
<text x="734.6" y="456.7" text-anchor="end" textLength="66.4" lengthAdjust="spacingAndGlyphs" style="font-family:'Liberation Sans',Arial,sans-serif;font-size:14.8px" fill="#111" stroke="#111" stroke-width="0.1">Swine<tspan dy="-1.6">_</tspan><tspan dy="1.6">12</tspan></text>
<circle cx="766.7" cy="452.2" r="2.40" fill="#27af94"/>
<circle cx="794.4" cy="452.2" r="1.60" fill="#27af94"/>
<circle cx="822.1" cy="452.2" r="2.40" fill="#27af94"/>
<circle cx="849.8" cy="452.2" r="1.15" fill="#27af94"/>
<circle cx="877.5" cy="452.2" r="2.75" fill="#27af94"/>
<circle cx="905.2" cy="452.2" r="2.60" fill="#27af94"/>
<line x1="742.5" y1="468.0" x2="750.2" y2="468.0" stroke="#4d4d4d" stroke-width="1.2"/>
<text x="734.6" y="472.5" text-anchor="end" textLength="67.1" lengthAdjust="spacingAndGlyphs" style="font-family:'Liberation Sans',Arial,sans-serif;font-size:14.8px" fill="#111" stroke="#111" stroke-width="0.1">Swine<tspan dy="-1.6">_</tspan><tspan dy="1.6">13</tspan></text>
<circle cx="766.7" cy="468.0" r="0.95" fill="#27af94"/>
<circle cx="794.4" cy="468.0" r="2.10" fill="#27af94"/>
<circle cx="822.1" cy="468.0" r="2.75" fill="#27af94"/>
<circle cx="849.8" cy="468.0" r="1.45" fill="#27af94"/>
<circle cx="877.5" cy="468.0" r="2.75" fill="#27af94"/>
<circle cx="905.2" cy="468.0" r="3.05" fill="#27af94"/>
<line x1="742.5" y1="483.9" x2="750.2" y2="483.9" stroke="#4d4d4d" stroke-width="1.2"/>
<text x="734.6" y="488.4" text-anchor="end" textLength="67.5" lengthAdjust="spacingAndGlyphs" style="font-family:'Liberation Sans',Arial,sans-serif;font-size:14.8px" fill="#111" stroke="#111" stroke-width="0.1">Swine<tspan dy="-1.6">_</tspan><tspan dy="1.6">14</tspan></text>
<circle cx="766.7" cy="483.9" r="2.10" fill="#27af94"/>
<circle cx="794.4" cy="483.9" r="2.90" fill="#27af94"/>
<circle cx="822.1" cy="483.9" r="0.95" fill="#27af94"/>
<circle cx="849.8" cy="483.9" r="2.40" fill="#27af94"/>
<circle cx="877.5" cy="483.9" r="2.90" fill="#27af94"/>
<circle cx="905.2" cy="483.9" r="2.25" fill="#27af94"/>
<line x1="742.5" y1="499.7" x2="750.2" y2="499.7" stroke="#4d4d4d" stroke-width="1.2"/>
<text x="734.6" y="504.2" text-anchor="end" textLength="67.1" lengthAdjust="spacingAndGlyphs" style="font-family:'Liberation Sans',Arial,sans-serif;font-size:14.8px" fill="#111" stroke="#111" stroke-width="0.1">Swine<tspan dy="-1.6">_</tspan><tspan dy="1.6">15</tspan></text>
<circle cx="766.7" cy="499.7" r="0.95" fill="#27af94"/>
<circle cx="794.4" cy="499.7" r="5.35" fill="#b3b3b3"/>
<circle cx="822.1" cy="499.7" r="0.95" fill="#27af94"/>
<circle cx="849.8" cy="499.7" r="1.45" fill="#27af94"/>
<circle cx="877.5" cy="499.7" r="0.95" fill="#27af94"/>
<circle cx="905.2" cy="499.7" r="1.15" fill="#27af94"/>
<line x1="742.5" y1="515.5" x2="750.2" y2="515.5" stroke="#4d4d4d" stroke-width="1.2"/>
<text x="734.6" y="520.0" text-anchor="end" textLength="67.5" lengthAdjust="spacingAndGlyphs" style="font-family:'Liberation Sans',Arial,sans-serif;font-size:14.8px" fill="#111" stroke="#111" stroke-width="0.1">Swine<tspan dy="-1.6">_</tspan><tspan dy="1.6">16</tspan></text>
<circle cx="766.7" cy="515.5" r="3.40" fill="#b3b3b3"/>
<circle cx="794.4" cy="515.5" r="4.05" fill="#b3b3b3"/>
<circle cx="822.1" cy="515.5" r="1.95" fill="#27af94"/>
<circle cx="849.8" cy="515.5" r="1.30" fill="#27af94"/>
<circle cx="877.5" cy="515.5" r="2.10" fill="#27af94"/>
<circle cx="905.2" cy="515.5" r="3.40" fill="#b3b3b3"/>
<line x1="742.5" y1="531.3" x2="750.2" y2="531.3" stroke="#4d4d4d" stroke-width="1.2"/>
<text x="734.6" y="535.8" text-anchor="end" textLength="66.2" lengthAdjust="spacingAndGlyphs" style="font-family:'Liberation Sans',Arial,sans-serif;font-size:14.8px" fill="#111" stroke="#111" stroke-width="0.1">Swine<tspan dy="-1.6">_</tspan><tspan dy="1.6">17</tspan></text>
<circle cx="766.7" cy="531.3" r="1.60" fill="#27af94"/>
<circle cx="794.4" cy="531.3" r="1.60" fill="#27af94"/>
<circle cx="822.1" cy="531.3" r="4.05" fill="#27af94"/>
<circle cx="849.8" cy="531.3" r="2.25" fill="#27af94"/>
<circle cx="877.5" cy="531.3" r="3.55" fill="#27af94"/>
<circle cx="905.2" cy="531.3" r="4.05" fill="#27af94"/>
<line x1="742.5" y1="547.1" x2="750.2" y2="547.1" stroke="#4d4d4d" stroke-width="1.2"/>
<text x="734.6" y="551.6" text-anchor="end" textLength="67.5" lengthAdjust="spacingAndGlyphs" style="font-family:'Liberation Sans',Arial,sans-serif;font-size:14.8px" fill="#111" stroke="#111" stroke-width="0.1">Swine<tspan dy="-1.6">_</tspan><tspan dy="1.6">18</tspan></text>
<circle cx="766.7" cy="547.1" r="0.95" fill="#27af94"/>
<circle cx="794.4" cy="547.1" r="2.75" fill="#27af94"/>
<circle cx="822.1" cy="547.1" r="4.35" fill="#27af94"/>
<circle cx="849.8" cy="547.1" r="0.95" fill="#27af94"/>
<circle cx="877.5" cy="547.1" r="3.40" fill="#27af94"/>
<circle cx="905.2" cy="547.1" r="3.90" fill="#27af94"/>
<line x1="742.5" y1="563.0" x2="750.2" y2="563.0" stroke="#4d4d4d" stroke-width="1.2"/>
<text x="734.6" y="567.5" text-anchor="end" textLength="67.5" lengthAdjust="spacingAndGlyphs" style="font-family:'Liberation Sans',Arial,sans-serif;font-size:14.8px" fill="#111" stroke="#111" stroke-width="0.1">Swine<tspan dy="-1.6">_</tspan><tspan dy="1.6">19</tspan></text>
<circle cx="766.7" cy="563.0" r="0.95" fill="#27af94"/>
<circle cx="794.4" cy="563.0" r="1.45" fill="#27af94"/>
<circle cx="822.1" cy="563.0" r="4.85" fill="#27af94"/>
<circle cx="849.8" cy="563.0" r="2.75" fill="#27af94"/>
<circle cx="877.5" cy="563.0" r="2.75" fill="#27af94"/>
<circle cx="905.2" cy="563.0" r="4.05" fill="#27af94"/>
<line x1="742.5" y1="578.8" x2="750.2" y2="578.8" stroke="#4d4d4d" stroke-width="1.2"/>
<text x="734.6" y="583.3" text-anchor="end" textLength="70.8" lengthAdjust="spacingAndGlyphs" style="font-family:'Liberation Sans',Arial,sans-serif;font-size:14.8px" fill="#111" stroke="#111" stroke-width="0.1">Swine<tspan dy="-1.6">_</tspan><tspan dy="1.6">20</tspan></text>
<circle cx="766.7" cy="578.8" r="1.30" fill="#27af94"/>
<circle cx="794.4" cy="578.8" r="4.20" fill="#27af94"/>
<circle cx="822.1" cy="578.8" r="3.70" fill="#27af94"/>
<circle cx="849.8" cy="578.8" r="3.25" fill="#27af94"/>
<circle cx="877.5" cy="578.8" r="3.55" fill="#27af94"/>
<circle cx="905.2" cy="578.8" r="3.40" fill="#27af94"/>
<line x1="742.5" y1="594.6" x2="750.2" y2="594.6" stroke="#4d4d4d" stroke-width="1.2"/>
<text x="734.6" y="599.1" text-anchor="end" textLength="66.4" lengthAdjust="spacingAndGlyphs" style="font-family:'Liberation Sans',Arial,sans-serif;font-size:14.8px" fill="#111" stroke="#111" stroke-width="0.1">Swine<tspan dy="-1.6">_</tspan><tspan dy="1.6">21</tspan></text>
<circle cx="766.7" cy="594.6" r="0.95" fill="#27af94"/>
<circle cx="794.4" cy="594.6" r="0.95" fill="#27af94"/>
<circle cx="822.1" cy="594.6" r="4.50" fill="#27af94"/>
<circle cx="849.8" cy="594.6" r="3.70" fill="#27af94"/>
<circle cx="877.5" cy="594.6" r="4.70" fill="#b3b3b3"/>
<circle cx="905.2" cy="594.6" r="1.30" fill="#27af94"/>
<line x1="742.5" y1="610.4" x2="750.2" y2="610.4" stroke="#4d4d4d" stroke-width="1.2"/>
<text x="734.6" y="614.9" text-anchor="end" textLength="69.0" lengthAdjust="spacingAndGlyphs" style="font-family:'Liberation Sans',Arial,sans-serif;font-size:14.8px" fill="#111" stroke="#111" stroke-width="0.1">Swine<tspan dy="-1.6">_</tspan><tspan dy="1.6">22</tspan></text>
<circle cx="766.7" cy="610.4" r="2.60" fill="#27af94"/>
<circle cx="794.4" cy="610.4" r="3.25" fill="#27af94"/>
<circle cx="822.1" cy="610.4" r="5.65" fill="#b3b3b3"/>
<circle cx="849.8" cy="610.4" r="1.60" fill="#27af94"/>
<circle cx="877.5" cy="610.4" r="3.55" fill="#27af94"/>
<circle cx="905.2" cy="610.4" r="2.60" fill="#27af94"/>
<line x1="742.5" y1="626.2" x2="750.2" y2="626.2" stroke="#4d4d4d" stroke-width="1.2"/>
<text x="734.6" y="630.7" text-anchor="end" textLength="69.7" lengthAdjust="spacingAndGlyphs" style="font-family:'Liberation Sans',Arial,sans-serif;font-size:14.8px" fill="#111" stroke="#111" stroke-width="0.1">Swine<tspan dy="-1.6">_</tspan><tspan dy="1.6">23</tspan></text>
<circle cx="766.7" cy="626.2" r="5.15" fill="#b3b3b3"/>
<circle cx="794.4" cy="626.2" r="2.10" fill="#27af94"/>
<circle cx="822.1" cy="626.2" r="5.80" fill="#b3b3b3"/>
<circle cx="849.8" cy="626.2" r="0.95" fill="#27af94"/>
<circle cx="877.5" cy="626.2" r="2.75" fill="#27af94"/>
<circle cx="905.2" cy="626.2" r="0.95" fill="#27af94"/>
<line x1="742.5" y1="642.1" x2="750.2" y2="642.1" stroke="#4d4d4d" stroke-width="1.2"/>
<text x="734.6" y="646.6" text-anchor="end" textLength="69.7" lengthAdjust="spacingAndGlyphs" style="font-family:'Liberation Sans',Arial,sans-serif;font-size:14.8px" fill="#111" stroke="#111" stroke-width="0.1">Swine<tspan dy="-1.6">_</tspan><tspan dy="1.6">24</tspan></text>
<circle cx="766.7" cy="642.1" r="4.05" fill="#27af94"/>
<circle cx="794.4" cy="642.1" r="1.60" fill="#27af94"/>
<circle cx="822.1" cy="642.1" r="4.20" fill="#27af94"/>
<circle cx="849.8" cy="642.1" r="3.70" fill="#27af94"/>
<circle cx="877.5" cy="642.1" r="3.70" fill="#27af94"/>
<circle cx="905.2" cy="642.1" r="4.20" fill="#27af94"/>
<line x1="742.5" y1="657.9" x2="750.2" y2="657.9" stroke="#4d4d4d" stroke-width="1.2"/>
<text x="734.6" y="662.4" text-anchor="end" textLength="69.2" lengthAdjust="spacingAndGlyphs" style="font-family:'Liberation Sans',Arial,sans-serif;font-size:14.8px" fill="#111" stroke="#111" stroke-width="0.1">Swine<tspan dy="-1.6">_</tspan><tspan dy="1.6">25</tspan></text>
<circle cx="766.7" cy="657.9" r="3.55" fill="#b3b3b3"/>
<circle cx="794.4" cy="657.9" r="3.90" fill="#27af94"/>
<circle cx="822.1" cy="657.9" r="5.00" fill="#27af94"/>
<circle cx="849.8" cy="657.9" r="3.25" fill="#27af94"/>
<circle cx="877.5" cy="657.9" r="4.70" fill="#27af94"/>
<circle cx="905.2" cy="657.9" r="3.90" fill="#27af94"/>
<line x1="742.5" y1="673.7" x2="750.2" y2="673.7" stroke="#4d4d4d" stroke-width="1.2"/>
<text x="734.6" y="678.2" text-anchor="end" textLength="69.7" lengthAdjust="spacingAndGlyphs" style="font-family:'Liberation Sans',Arial,sans-serif;font-size:14.8px" fill="#111" stroke="#111" stroke-width="0.1">Swine<tspan dy="-1.6">_</tspan><tspan dy="1.6">26</tspan></text>
<circle cx="766.7" cy="673.7" r="4.70" fill="#b3b3b3"/>
<circle cx="794.4" cy="673.7" r="0.95" fill="#27af94"/>
<circle cx="822.1" cy="673.7" r="5.00" fill="#27af94"/>
<circle cx="849.8" cy="673.7" r="3.25" fill="#27af94"/>
<circle cx="877.5" cy="673.7" r="5.15" fill="#27af94"/>
<circle cx="905.2" cy="673.7" r="4.05" fill="#27af94"/>
<line x1="742.5" y1="689.5" x2="750.2" y2="689.5" stroke="#4d4d4d" stroke-width="1.2"/>
<text x="734.6" y="694.0" text-anchor="end" textLength="67.9" lengthAdjust="spacingAndGlyphs" style="font-family:'Liberation Sans',Arial,sans-serif;font-size:14.8px" fill="#111" stroke="#111" stroke-width="0.1">Swine<tspan dy="-1.6">_</tspan><tspan dy="1.6">27</tspan></text>
<circle cx="766.7" cy="689.5" r="6.95" fill="#b3b3b3"/>
<circle cx="794.4" cy="689.5" r="0.95" fill="#27af94"/>
<circle cx="822.1" cy="689.5" r="6.15" fill="#b3b3b3"/>
<circle cx="849.8" cy="689.5" r="2.75" fill="#27af94"/>
<circle cx="877.5" cy="689.5" r="4.70" fill="#27af94"/>
<circle cx="905.2" cy="689.5" r="3.90" fill="#27af94"/>
<line x1="742.5" y1="705.3" x2="750.2" y2="705.3" stroke="#4d4d4d" stroke-width="1.2"/>
<text x="734.6" y="709.8" text-anchor="end" textLength="69.7" lengthAdjust="spacingAndGlyphs" style="font-family:'Liberation Sans',Arial,sans-serif;font-size:14.8px" fill="#111" stroke="#111" stroke-width="0.1">Swine<tspan dy="-1.6">_</tspan><tspan dy="1.6">28</tspan></text>
<circle cx="766.7" cy="705.3" r="5.00" fill="#b3b3b3"/>
<circle cx="794.4" cy="705.3" r="5.80" fill="#b3b3b3"/>
<circle cx="822.1" cy="705.3" r="6.15" fill="#b3b3b3"/>
<circle cx="849.8" cy="705.3" r="3.70" fill="#27af94"/>
<circle cx="877.5" cy="705.3" r="4.70" fill="#b3b3b3"/>
<circle cx="905.2" cy="705.3" r="5.15" fill="#b3b3b3"/>
<line x1="742.5" y1="721.2" x2="750.2" y2="721.2" stroke="#4d4d4d" stroke-width="1.2"/>
<text x="734.6" y="725.7" text-anchor="end" textLength="69.7" lengthAdjust="spacingAndGlyphs" style="font-family:'Liberation Sans',Arial,sans-serif;font-size:14.8px" fill="#111" stroke="#111" stroke-width="0.1">Swine<tspan dy="-1.6">_</tspan><tspan dy="1.6">29</tspan></text>
<circle cx="766.7" cy="721.2" r="6.45" fill="#b3b3b3"/>
<circle cx="794.4" cy="721.2" r="0.95" fill="#27af94"/>
<circle cx="822.1" cy="721.2" r="6.95" fill="#b3b3b3"/>
<circle cx="849.8" cy="721.2" r="1.80" fill="#27af94"/>
<circle cx="877.5" cy="721.2" r="6.30" fill="#b3b3b3"/>
<circle cx="905.2" cy="721.2" r="3.05" fill="#27af94"/>
<line x1="742.5" y1="737.0" x2="750.2" y2="737.0" stroke="#4d4d4d" stroke-width="1.2"/>
<text x="734.6" y="741.5" text-anchor="end" textLength="71.8" lengthAdjust="spacingAndGlyphs" style="font-family:'Liberation Sans',Arial,sans-serif;font-size:14.8px" fill="#2553b8" stroke="#2553b8" stroke-width="0.1">Swine<tspan dy="-1.6">_</tspan><tspan dy="1.6">30</tspan></text>
<circle cx="766.7" cy="737.0" r="4.70" fill="#27af94"/>
<circle cx="794.4" cy="737.0" r="6.80" fill="#b3b3b3"/>
<circle cx="822.1" cy="737.0" r="6.95" fill="#b3b3b3"/>
<circle cx="849.8" cy="737.0" r="4.50" fill="#27af94"/>
<circle cx="877.5" cy="737.0" r="5.80" fill="#b3b3b3"/>
<circle cx="905.2" cy="737.0" r="4.20" fill="#27af94"/>
<rect x="921.3" y="94.8" width="96.4" height="66.4" fill="none" stroke="#4d4d4d" stroke-width="1.2"/>
<text x="969.5" y="111.8" text-anchor="middle" textLength="72.3" lengthAdjust="spacingAndGlyphs" style="font-family:'Liberation Sans',Arial,sans-serif;font-size:16px" fill="#111">Statistics:</text>
<text x="969.5" y="126.5" text-anchor="middle" textLength="46.2" lengthAdjust="spacingAndGlyphs" style="font-family:'Liberation Sans',Arial,sans-serif;font-size:16px" fill="#36b896">Active</text>
<text x="969.5" y="140.8" text-anchor="middle" textLength="58.5" lengthAdjust="spacingAndGlyphs" style="font-family:'Liberation Sans',Arial,sans-serif;font-size:16px" fill="#bdbdbd">Inactive</text>
<text x="969.5" y="154.7" text-anchor="middle" textLength="89.8" lengthAdjust="spacingAndGlyphs" style="font-family:'Liberation Sans',Arial,sans-serif;font-size:16px" fill="#111">52/62 (84%)</text>
<text x="969.5" y="179.3" text-anchor="middle" textLength="75.2" lengthAdjust="spacingAndGlyphs" style="font-family:'Liberation Sans',Arial,sans-serif;font-size:16px" fill="#111">Sequence</text>
<text x="969.5" y="198.3" text-anchor="middle" textLength="66.2" lengthAdjust="spacingAndGlyphs" style="font-family:'Liberation Sans',Arial,sans-serif;font-size:16px" fill="#111">similarity</text>
<text x="969.5" y="217.0" text-anchor="middle" textLength="76.0" lengthAdjust="spacingAndGlyphs" style="font-family:'Liberation Sans',Arial,sans-serif;font-size:16px" fill="#111">to training</text>
<text x="969.5" y="235.5" text-anchor="middle" textLength="40.5" lengthAdjust="spacingAndGlyphs" style="font-family:'Liberation Sans',Arial,sans-serif;font-size:16px" fill="#111">AMPs</text>
<rect x="926.6" y="267.8" width="85.7" height="478.6" fill="none" stroke="#4d4d4d" stroke-width="1.3"/>
<line x1="930.6" y1="263.3" x2="930.6" y2="267.8" stroke="#4d4d4d" stroke-width="1.2"/>
<text x="930.6" y="256.7" text-anchor="middle" style="font-family:'Liberation Sans',Arial,sans-serif;font-size:13.5px" fill="#111">0</text>
<line x1="950.2" y1="263.3" x2="950.2" y2="267.8" stroke="#4d4d4d" stroke-width="1.2"/>
<text x="950.2" y="256.7" text-anchor="middle" style="font-family:'Liberation Sans',Arial,sans-serif;font-size:13.5px" fill="#111">25</text>
<line x1="969.7" y1="263.3" x2="969.7" y2="267.8" stroke="#4d4d4d" stroke-width="1.2"/>
<text x="969.7" y="256.7" text-anchor="middle" style="font-family:'Liberation Sans',Arial,sans-serif;font-size:13.5px" fill="#111">50</text>
<line x1="989.4" y1="263.3" x2="989.4" y2="267.8" stroke="#4d4d4d" stroke-width="1.2"/>
<text x="989.4" y="256.7" text-anchor="middle" style="font-family:'Liberation Sans',Arial,sans-serif;font-size:13.5px" fill="#111">75</text>
<line x1="1008.8" y1="263.3" x2="1008.8" y2="267.8" stroke="#4d4d4d" stroke-width="1.2"/>
<text x="1008.8" y="256.7" text-anchor="middle" style="font-family:'Liberation Sans',Arial,sans-serif;font-size:13.5px" fill="#111">100</text>
<line x1="921.6" y1="278.2" x2="926.6" y2="278.2" stroke="#4d4d4d" stroke-width="1.2"/>
<rect x="931" y="272.3" width="23.8" height="12.0" fill="#545454"/>
<line x1="921.6" y1="294.0" x2="926.6" y2="294.0" stroke="#4d4d4d" stroke-width="1.2"/>
<rect x="931" y="288.1" width="24.4" height="12.0" fill="#545454"/>
<line x1="921.6" y1="309.8" x2="926.6" y2="309.8" stroke="#4d4d4d" stroke-width="1.2"/>
<rect x="931" y="303.9" width="22.4" height="12.0" fill="#545454"/>
<line x1="921.6" y1="325.7" x2="926.6" y2="325.7" stroke="#4d4d4d" stroke-width="1.2"/>
<rect x="931" y="319.8" width="17.8" height="12.0" fill="#545454"/>
<line x1="921.6" y1="341.5" x2="926.6" y2="341.5" stroke="#4d4d4d" stroke-width="1.2"/>
<rect x="931" y="335.6" width="16.1" height="12.0" fill="#545454"/>
<line x1="921.6" y1="357.3" x2="926.6" y2="357.3" stroke="#4d4d4d" stroke-width="1.2"/>
<rect x="931" y="351.4" width="21.8" height="12.0" fill="#545454"/>
<line x1="921.6" y1="373.1" x2="926.6" y2="373.1" stroke="#4d4d4d" stroke-width="1.2"/>
<rect x="931" y="367.2" width="6.9" height="12.0" fill="#545454"/>
<line x1="921.6" y1="388.9" x2="926.6" y2="388.9" stroke="#4d4d4d" stroke-width="1.2"/>
<rect x="931" y="383.0" width="18.5" height="12.0" fill="#545454"/>
<line x1="921.6" y1="404.8" x2="926.6" y2="404.8" stroke="#4d4d4d" stroke-width="1.2"/>
<rect x="931" y="398.9" width="22.4" height="12.0" fill="#545454"/>
<line x1="921.6" y1="420.6" x2="926.6" y2="420.6" stroke="#4d4d4d" stroke-width="1.2"/>
<rect x="931" y="414.7" width="23.4" height="12.0" fill="#545454"/>
<line x1="921.6" y1="436.4" x2="926.6" y2="436.4" stroke="#4d4d4d" stroke-width="1.2"/>
<rect x="931" y="430.5" width="28.7" height="12.0" fill="#545454"/>
<line x1="921.6" y1="452.2" x2="926.6" y2="452.2" stroke="#4d4d4d" stroke-width="1.2"/>
<rect x="931" y="446.3" width="16.5" height="12.0" fill="#545454"/>
<line x1="921.6" y1="468.0" x2="926.6" y2="468.0" stroke="#4d4d4d" stroke-width="1.2"/>
<rect x="931" y="462.1" width="14.2" height="12.0" fill="#545454"/>
<line x1="921.6" y1="483.9" x2="926.6" y2="483.9" stroke="#4d4d4d" stroke-width="1.2"/>
<rect x="931" y="478.0" width="14.8" height="12.0" fill="#545454"/>
<line x1="921.6" y1="499.7" x2="926.6" y2="499.7" stroke="#4d4d4d" stroke-width="1.2"/>
<rect x="931" y="493.8" width="18.5" height="12.0" fill="#545454"/>
<line x1="921.6" y1="515.5" x2="926.6" y2="515.5" stroke="#4d4d4d" stroke-width="1.2"/>
<rect x="931" y="509.6" width="16.3" height="12.0" fill="#545454"/>
<line x1="921.6" y1="531.3" x2="926.6" y2="531.3" stroke="#4d4d4d" stroke-width="1.2"/>
<rect x="931" y="525.4" width="8.4" height="12.0" fill="#545454"/>
<line x1="921.6" y1="547.1" x2="926.6" y2="547.1" stroke="#4d4d4d" stroke-width="1.2"/>
<rect x="931" y="541.2" width="22.2" height="12.0" fill="#545454"/>
<line x1="921.6" y1="563.0" x2="926.6" y2="563.0" stroke="#4d4d4d" stroke-width="1.2"/>
<rect x="931" y="557.1" width="17.7" height="12.0" fill="#545454"/>
<line x1="921.6" y1="578.8" x2="926.6" y2="578.8" stroke="#4d4d4d" stroke-width="1.2"/>
<rect x="931" y="572.9" width="23.2" height="12.0" fill="#545454"/>
<line x1="921.6" y1="594.6" x2="926.6" y2="594.6" stroke="#4d4d4d" stroke-width="1.2"/>
<rect x="931" y="588.7" width="27.0" height="12.0" fill="#545454"/>
<line x1="921.6" y1="610.4" x2="926.6" y2="610.4" stroke="#4d4d4d" stroke-width="1.2"/>
<rect x="931" y="604.5" width="20.1" height="12.0" fill="#545454"/>
<line x1="921.6" y1="626.2" x2="926.6" y2="626.2" stroke="#4d4d4d" stroke-width="1.2"/>
<rect x="931" y="620.3" width="9.1" height="12.0" fill="#545454"/>
<line x1="921.6" y1="642.1" x2="926.6" y2="642.1" stroke="#4d4d4d" stroke-width="1.2"/>
<rect x="931" y="636.2" width="27.0" height="12.0" fill="#545454"/>
<line x1="921.6" y1="657.9" x2="926.6" y2="657.9" stroke="#4d4d4d" stroke-width="1.2"/>
<rect x="931" y="652.0" width="21.8" height="12.0" fill="#545454"/>
<line x1="921.6" y1="673.7" x2="926.6" y2="673.7" stroke="#4d4d4d" stroke-width="1.2"/>
<rect x="931" y="667.8" width="17.3" height="12.0" fill="#545454"/>
<line x1="921.6" y1="689.5" x2="926.6" y2="689.5" stroke="#4d4d4d" stroke-width="1.2"/>
<rect x="931" y="683.6" width="12.5" height="12.0" fill="#545454"/>
<line x1="921.6" y1="705.3" x2="926.6" y2="705.3" stroke="#4d4d4d" stroke-width="1.2"/>
<rect x="931" y="699.4" width="18.4" height="12.0" fill="#545454"/>
<line x1="921.6" y1="721.2" x2="926.6" y2="721.2" stroke="#4d4d4d" stroke-width="1.2"/>
<rect x="931" y="715.3" width="6.0" height="12.0" fill="#545454"/>
<line x1="921.6" y1="737.0" x2="926.6" y2="737.0" stroke="#4d4d4d" stroke-width="1.2"/>
<rect x="931" y="731.1" width="6.0" height="12.0" fill="#545454"/>
<text x="665.6" y="768.5" textLength="137.1" lengthAdjust="spacingAndGlyphs" style="font-family:'Liberation Sans',Arial,sans-serif;font-size:16px" fill="#111">Fold change in OD</text>
<text x="803.3" y="773.8" textLength="18.7" lengthAdjust="spacingAndGlyphs" style="font-family:'Liberation Sans',Arial,sans-serif;font-size:10px" fill="#111">600</text>
<circle cx="837.8" cy="763.8" r="3.8" fill="#000"/>
<text x="850.3" y="768.5" textLength="32.3" lengthAdjust="spacingAndGlyphs" style="font-family:'Liberation Sans',Arial,sans-serif;font-size:16px" fill="#111" stroke="#111" stroke-width="0.2">0.25</text>
<circle cx="901.5" cy="763.8" r="5.1" fill="#000"/>
<text x="915.2" y="768.5" textLength="33.0" lengthAdjust="spacingAndGlyphs" style="font-family:'Liberation Sans',Arial,sans-serif;font-size:16px" fill="#111" stroke="#111" stroke-width="0.2">0.50</text>
<circle cx="972.3" cy="763.8" r="6.35" fill="#000"/>
<text x="989.0" y="768.5" textLength="33.2" lengthAdjust="spacingAndGlyphs" style="font-family:'Liberation Sans',Arial,sans-serif;font-size:16px" fill="#111" stroke="#111" stroke-width="0.2">0.80</text>
</svg></body></html>
